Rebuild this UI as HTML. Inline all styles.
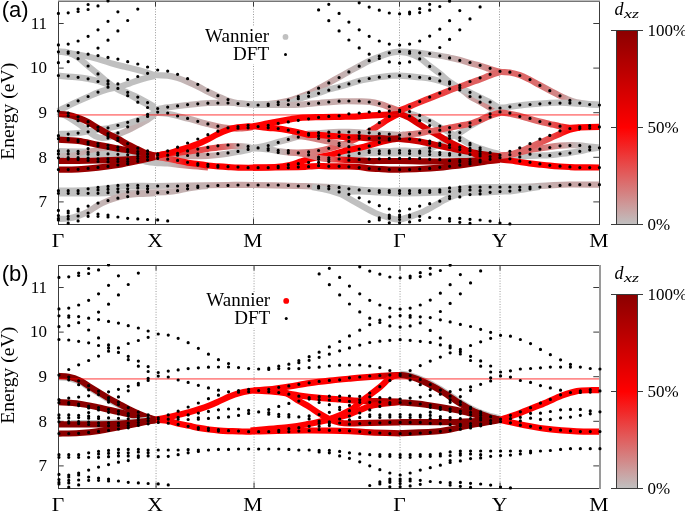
<!DOCTYPE html>
<html><head><meta charset="utf-8"><style>
html,body{margin:0;padding:0;background:#fff;width:685px;height:511px;overflow:hidden}
svg{display:block}
text{font-family:"Liberation Serif",serif;fill:#000}
text{filter:grayscale(100%)}
.tk{font-size:17px}
.kl{font-size:18.5px}
.lg{font-size:19px}
.yl{font-size:19.6px}
.pl{font-family:"Liberation Sans",sans-serif;font-size:22px}
.dl{font-size:18px;font-style:italic}
.sub{font-size:13.5px}
</style></head><body>
<svg width="685" height="511" viewBox="0 0 685 511">
<defs>
<linearGradient id="cb" x1="0" y1="0" x2="0" y2="1"><stop offset="0.000" stop-color="#8b0000"/><stop offset="0.050" stop-color="#970000"/><stop offset="0.100" stop-color="#a20000"/><stop offset="0.150" stop-color="#ae0000"/><stop offset="0.200" stop-color="#b90000"/><stop offset="0.250" stop-color="#c50000"/><stop offset="0.300" stop-color="#d10000"/><stop offset="0.350" stop-color="#dc0000"/><stop offset="0.400" stop-color="#e80000"/><stop offset="0.450" stop-color="#f30000"/><stop offset="0.500" stop-color="#ff0000"/><stop offset="0.550" stop-color="#f91313"/><stop offset="0.600" stop-color="#f22626"/><stop offset="0.650" stop-color="#ec3a3a"/><stop offset="0.700" stop-color="#e64d4d"/><stop offset="0.750" stop-color="#e06060"/><stop offset="0.800" stop-color="#d97373"/><stop offset="0.850" stop-color="#d38686"/><stop offset="0.900" stop-color="#cd9a9a"/><stop offset="0.950" stop-color="#c6adad"/><stop offset="1.000" stop-color="#c0c0c0"/></linearGradient>
<clipPath id="clip0"><rect x="55.5" y="1" width="546" height="223"/></clipPath>
<clipPath id="clip264"><rect x="55.5" y="265" width="546" height="223"/></clipPath>
<clipPath id="clipd0"><rect x="55" y="0" width="548" height="226"/></clipPath>
<clipPath id="clipd264"><rect x="55" y="264" width="548" height="226"/></clipPath>
</defs>
<g class="tx">
<line x1="155.5" y1="1" x2="155.5" y2="224" stroke="#9a9a9a" stroke-width="1" stroke-dasharray="1 1.6"/>
<line x1="253.5" y1="1" x2="253.5" y2="224" stroke="#9a9a9a" stroke-width="1" stroke-dasharray="1 1.6"/>
<line x1="399.5" y1="1" x2="399.5" y2="224" stroke="#9a9a9a" stroke-width="1" stroke-dasharray="1 1.6"/>
<line x1="499.5" y1="1" x2="499.5" y2="224" stroke="#9a9a9a" stroke-width="1" stroke-dasharray="1 1.6"/>
<path d="M58,201.9h5.7M599,201.9h-5.7" stroke="#3a3a3a" stroke-width="1"/>
<path d="M58,157.3h5.7M599,157.3h-5.7" stroke="#3a3a3a" stroke-width="1"/>
<path d="M58,112.7h5.7M599,112.7h-5.7" stroke="#3a3a3a" stroke-width="1"/>
<path d="M58,68.1h5.7M599,68.1h-5.7" stroke="#3a3a3a" stroke-width="1"/>
<path d="M58,23.5h5.7M599,23.5h-5.7" stroke="#3a3a3a" stroke-width="1"/>
<path d="M155.5,224v-5.5M155.5,1v5.5" stroke="#3a3a3a" stroke-width="1"/>
<path d="M253.5,224v-5.5M253.5,1v5.5" stroke="#3a3a3a" stroke-width="1"/>
<path d="M399.5,224v-5.5M399.5,1v5.5" stroke="#3a3a3a" stroke-width="1"/>
<path d="M499.5,224v-5.5M499.5,1v5.5" stroke="#3a3a3a" stroke-width="1"/>
<path d="M58.5,224v-5.5M58.5,1v5.5" stroke="#3a3a3a" stroke-width="1"/>
<path d="M599.5,224v-5.5M599.5,1v5.5" stroke="#3a3a3a" stroke-width="1"/>
<g clip-path="url(#clip0)">
<linearGradient id="g0_0" gradientUnits="userSpaceOnUse" x1="58" y1="0" x2="599.2" y2="0"><stop offset="0.0000" stop-color="#c0c0c0"/><stop offset="0.0370" stop-color="#c0c0c0"/><stop offset="0.0739" stop-color="#c0c0c0"/><stop offset="0.1016" stop-color="#c0c0c0"/><stop offset="0.1238" stop-color="#c0c0c0"/><stop offset="0.1460" stop-color="#c0c0c0"/><stop offset="0.1637" stop-color="#c0c0c0"/><stop offset="0.1792" stop-color="#c0c0c0"/><stop offset="0.2027" stop-color="#c0bfbf"/><stop offset="0.2204" stop-color="#c2baba"/><stop offset="0.2397" stop-color="#c4b4b4"/><stop offset="0.2591" stop-color="#c4b2b2"/><stop offset="0.2768" stop-color="#c4b2b2"/><stop offset="0.2962" stop-color="#c4b2b2"/><stop offset="0.3154" stop-color="#c4b2b2"/><stop offset="0.3331" stop-color="#c4b4b4"/><stop offset="0.3511" stop-color="#c3b8b8"/><stop offset="0.3603" stop-color="#c3b8b8"/><stop offset="0.3882" stop-color="#c6aeae"/><stop offset="0.4259" stop-color="#c8a6a6"/><stop offset="0.4448" stop-color="#c8a6a6"/><stop offset="0.4634" stop-color="#c8a6a6"/><stop offset="0.4823" stop-color="#c8a6a6"/><stop offset="0.5011" stop-color="#c7a9a9"/><stop offset="0.5200" stop-color="#c6aeae"/><stop offset="0.5388" stop-color="#c3b6b6"/><stop offset="0.5576" stop-color="#c2baba"/><stop offset="0.5765" stop-color="#c0bfbf"/><stop offset="0.5950" stop-color="#c0c0c0"/><stop offset="0.6135" stop-color="#c0c0c0"/><stop offset="0.6310" stop-color="#c0c0c0"/><stop offset="0.6495" stop-color="#c0c0c0"/><stop offset="0.6672" stop-color="#c0bfbf"/><stop offset="0.7058" stop-color="#c2baba"/><stop offset="0.7236" stop-color="#c4b2b2"/><stop offset="0.7428" stop-color="#c8a6a6"/><stop offset="0.7607" stop-color="#caa0a0"/><stop offset="0.7799" stop-color="#ce9696"/><stop offset="0.7977" stop-color="#d48282"/><stop offset="0.8161" stop-color="#dd6868"/><stop offset="0.8350" stop-color="#dd6868"/><stop offset="0.8537" stop-color="#dd6868"/><stop offset="0.8712" stop-color="#dd6868"/><stop offset="0.8899" stop-color="#d97373"/><stop offset="0.9087" stop-color="#d48282"/><stop offset="0.9276" stop-color="#d28a8a"/><stop offset="0.9449" stop-color="#c8a6a6"/><stop offset="0.9581" stop-color="#c4b2b2"/><stop offset="0.9812" stop-color="#c2baba"/><stop offset="1.0000" stop-color="#c2baba"/></linearGradient>
<path d="M58.00,51.50C61.33,52.00 71.33,53.25 78.00,54.50C84.67,55.75 92.17,57.45 98.00,59.00C103.83,60.55 108.50,62.50 113.00,63.80C117.50,65.10 121.00,65.80 125.00,66.80C129.00,67.80 133.40,68.85 137.00,69.80C140.60,70.75 143.60,71.63 146.60,72.50C149.60,73.37 151.48,74.48 155.00,75.00C158.52,75.52 163.98,75.12 167.70,75.60C171.42,76.08 173.97,76.87 177.30,77.90C180.63,78.93 184.22,80.35 187.70,81.80C191.18,83.25 194.85,84.97 198.20,86.60C201.55,88.23 204.45,89.95 207.80,91.60C211.15,93.25 214.82,94.93 218.30,96.50C221.78,98.07 225.37,99.85 228.70,101.00C232.03,102.15 235.08,102.87 238.30,103.40C241.52,103.93 245.55,104.02 248.00,104.20C250.45,104.38 249.65,104.52 253.00,104.50C256.35,104.48 262.18,104.73 268.10,104.10C274.02,103.47 283.40,101.83 288.50,100.70C293.60,99.57 295.32,98.50 298.70,97.30C302.08,96.10 305.42,95.00 308.80,93.50C312.18,92.00 315.60,90.12 319.00,88.30C322.40,86.48 325.80,84.48 329.20,82.60C332.60,80.72 336.00,78.88 339.40,77.00C342.80,75.12 346.20,73.18 349.60,71.30C353.00,69.42 356.40,67.50 359.80,65.70C363.20,63.90 366.63,62.03 370.00,60.50C373.37,58.97 376.67,57.75 380.00,56.50C383.33,55.25 386.75,53.82 390.00,53.00C393.25,52.18 396.25,51.77 399.50,51.60C402.75,51.43 406.23,51.80 409.50,52.00C412.77,52.20 414.02,52.18 419.10,52.80C424.18,53.42 434.92,54.88 440.00,55.70C445.08,56.52 446.27,56.98 449.60,57.70C452.93,58.42 456.65,59.12 460.00,60.00C463.35,60.88 466.35,62.05 469.70,63.00C473.05,63.95 476.77,64.72 480.10,65.70C483.43,66.68 486.43,67.88 489.70,68.90C492.97,69.92 496.33,71.20 499.70,71.80C503.07,72.40 506.52,71.93 509.90,72.50C513.28,73.07 516.73,74.02 520.00,75.20C523.27,76.38 526.23,77.95 529.50,79.60C532.77,81.25 536.22,83.28 539.60,85.10C542.98,86.92 546.40,88.73 549.80,90.50C553.20,92.27 556.73,94.12 560.00,95.70C563.27,97.28 566.65,98.90 569.40,100.00C572.15,101.10 573.23,101.63 576.50,102.30C579.77,102.97 585.22,103.58 589.00,104.00C592.78,104.42 597.50,104.67 599.20,104.80" fill="none" stroke="url(#g0_0)" stroke-width="6.2" stroke-linejoin="round" stroke-linecap="butt"/>
<linearGradient id="g0_1" gradientUnits="userSpaceOnUse" x1="58" y1="0" x2="499.7" y2="0"><stop offset="0.0000" stop-color="#c0c0c0"/><stop offset="0.0226" stop-color="#c0c0c0"/><stop offset="0.0453" stop-color="#c0c0c0"/><stop offset="0.0679" stop-color="#c0c0c0"/><stop offset="0.0906" stop-color="#c0c0c0"/><stop offset="0.1132" stop-color="#c0c0c0"/><stop offset="0.1358" stop-color="#c0c0c0"/><stop offset="0.1585" stop-color="#c0c0c0"/><stop offset="0.1811" stop-color="#c0c0c0"/><stop offset="0.2038" stop-color="#c0c0c0"/><stop offset="0.2196" stop-color="#c0c0c0"/><stop offset="0.2484" stop-color="#c1bdbd"/><stop offset="0.2936" stop-color="#c3b6b6"/><stop offset="0.3391" stop-color="#c4b4b4"/><stop offset="0.3865" stop-color="#c4b4b4"/><stop offset="0.4075" stop-color="#c3b8b8"/><stop offset="0.4415" stop-color="#c1bdbd"/><stop offset="0.4754" stop-color="#c0c0c0"/><stop offset="0.5218" stop-color="#c0c0c0"/><stop offset="0.5449" stop-color="#c0c0c0"/><stop offset="0.5678" stop-color="#c0c0c0"/><stop offset="0.5909" stop-color="#c0c0c0"/><stop offset="0.6140" stop-color="#c0c0c0"/><stop offset="0.6371" stop-color="#c0c0c0"/><stop offset="0.6602" stop-color="#c0c0c0"/><stop offset="0.6833" stop-color="#c0c0c0"/><stop offset="0.7064" stop-color="#c0c0c0"/><stop offset="0.7292" stop-color="#c0c0c0"/><stop offset="0.7523" stop-color="#c0c0c0"/><stop offset="0.7731" stop-color="#c0c0c0"/><stop offset="0.8175" stop-color="#c0c0c0"/><stop offset="0.8411" stop-color="#c0c0c0"/><stop offset="0.8648" stop-color="#c0c0c0"/><stop offset="0.8866" stop-color="#c0bfbf"/><stop offset="0.9101" stop-color="#c2baba"/><stop offset="0.9321" stop-color="#c8a6a6"/><stop offset="0.9556" stop-color="#ce9696"/><stop offset="0.9774" stop-color="#d28a8a"/><stop offset="1.0000" stop-color="#d48282"/></linearGradient>
<path d="M58.00,51.50C59.67,51.67 64.67,51.50 68.00,52.50C71.33,53.50 74.67,55.28 78.00,57.50C81.33,59.72 84.67,63.05 88.00,65.80C91.33,68.55 94.67,71.22 98.00,74.00C101.33,76.78 104.67,79.92 108.00,82.50C111.33,85.08 114.67,87.58 118.00,89.50C121.33,91.42 124.67,92.32 128.00,94.00C131.33,95.68 134.67,97.77 138.00,99.60C141.33,101.43 145.17,103.43 148.00,105.00C150.83,106.57 151.72,108.60 155.00,109.00C158.28,109.40 162.25,108.07 167.70,107.40C173.15,106.73 181.02,105.73 187.70,105.00C194.38,104.27 200.97,103.40 207.80,103.00C214.63,102.60 223.67,102.53 228.70,102.60C233.73,102.67 233.95,103.08 238.00,103.40C242.05,103.72 248.00,104.32 253.00,104.50C258.00,104.68 262.08,104.70 268.00,104.50C273.92,104.30 283.38,104.18 288.50,103.30C293.62,102.42 295.32,100.45 298.70,99.20C302.08,97.95 305.42,96.87 308.80,95.80C312.18,94.73 315.60,93.87 319.00,92.80C322.40,91.73 325.80,90.42 329.20,89.40C332.60,88.38 336.00,87.63 339.40,86.70C342.80,85.77 346.20,84.78 349.60,83.80C353.00,82.82 356.40,81.63 359.80,80.80C363.20,79.97 366.62,79.43 370.00,78.80C373.38,78.17 376.72,77.50 380.10,77.00C383.48,76.50 387.07,76.02 390.30,75.80C393.53,75.58 394.70,75.45 399.50,75.70C404.30,75.95 414.10,76.83 419.10,77.30C424.10,77.77 426.02,77.88 429.50,78.50C432.98,79.12 436.65,80.05 440.00,81.00C443.35,81.95 446.27,82.95 449.60,84.20C452.93,85.45 456.65,86.50 460.00,88.50C463.35,90.50 466.35,93.98 469.70,96.20C473.05,98.42 476.77,99.93 480.10,101.80C483.43,103.67 486.43,105.78 489.70,107.40C492.97,109.02 498.03,110.82 499.70,111.50" fill="none" stroke="url(#g0_1)" stroke-width="6.2" stroke-linejoin="round" stroke-linecap="butt"/>
<linearGradient id="g0_2" gradientUnits="userSpaceOnUse" x1="58" y1="0" x2="155" y2="0"><stop offset="0.0000" stop-color="#c0c0c0"/><stop offset="0.2062" stop-color="#c0c0c0"/><stop offset="0.3093" stop-color="#c0c0c0"/><stop offset="0.4124" stop-color="#c0c0c0"/><stop offset="0.5155" stop-color="#c0c0c0"/><stop offset="0.6186" stop-color="#c0c0c0"/><stop offset="0.7216" stop-color="#c0c0c0"/><stop offset="0.8247" stop-color="#c0c0c0"/><stop offset="0.9278" stop-color="#c0c0c0"/><stop offset="1.0000" stop-color="#c0c0c0"/></linearGradient>
<path d="M58.00,75.70C61.33,75.97 73.00,76.78 78.00,77.30C83.00,77.82 84.67,78.18 88.00,78.80C91.33,79.42 94.67,80.03 98.00,81.00C101.33,81.97 104.67,83.33 108.00,84.60C111.33,85.87 114.67,87.20 118.00,88.60C121.33,90.00 124.67,91.52 128.00,93.00C131.33,94.48 134.67,95.83 138.00,97.50C141.33,99.17 145.17,101.42 148.00,103.00C150.83,104.58 153.83,106.33 155.00,107.00" fill="none" stroke="url(#g0_2)" stroke-width="6.2" stroke-linejoin="round" stroke-linecap="butt"/>
<linearGradient id="g0_3" gradientUnits="userSpaceOnUse" x1="58" y1="0" x2="155" y2="0"><stop offset="0.0000" stop-color="#c0c0c0"/><stop offset="0.1031" stop-color="#c0c0c0"/><stop offset="0.2062" stop-color="#c0c0c0"/><stop offset="0.3093" stop-color="#c0c0c0"/><stop offset="0.4124" stop-color="#c0c0c0"/><stop offset="0.5155" stop-color="#c0c0c0"/><stop offset="0.6392" stop-color="#c0c0c0"/><stop offset="0.7423" stop-color="#c0c0c0"/><stop offset="0.8454" stop-color="#c0c0c0"/><stop offset="0.9278" stop-color="#c0c0c0"/><stop offset="1.0000" stop-color="#c0c0c0"/></linearGradient>
<path d="M58.00,111.00C59.67,110.17 64.67,107.62 68.00,106.00C71.33,104.38 74.67,102.83 78.00,101.30C81.33,99.77 84.67,98.27 88.00,96.80C91.33,95.33 94.67,93.75 98.00,92.50C101.33,91.25 104.33,90.27 108.00,89.30C111.67,88.33 116.33,87.72 120.00,86.70C123.67,85.68 126.67,84.35 130.00,83.20C133.33,82.05 137.00,80.75 140.00,79.80C143.00,78.85 145.50,78.13 148.00,77.50C150.50,76.87 153.83,76.25 155.00,76.00" fill="none" stroke="url(#g0_3)" stroke-width="6.2" stroke-linejoin="round" stroke-linecap="butt"/>
<linearGradient id="g0_4" gradientUnits="userSpaceOnUse" x1="399.5" y1="0" x2="599.2" y2="0"><stop offset="0.0000" stop-color="#c0c0c0"/><stop offset="0.0501" stop-color="#c0c0c0"/><stop offset="0.0981" stop-color="#c0c0c0"/><stop offset="0.1502" stop-color="#c0c0c0"/><stop offset="0.2028" stop-color="#c0c0c0"/><stop offset="0.2509" stop-color="#c0c0c0"/><stop offset="0.3030" stop-color="#c0c0c0"/><stop offset="0.3515" stop-color="#c0c0c0"/><stop offset="0.4036" stop-color="#c0c0c0"/><stop offset="0.4517" stop-color="#c0c0c0"/><stop offset="0.5018" stop-color="#c0c0c0"/><stop offset="0.5528" stop-color="#c0c0c0"/><stop offset="0.6034" stop-color="#c0c0c0"/><stop offset="0.6510" stop-color="#c0c0c0"/><stop offset="0.7016" stop-color="#c0c0c0"/><stop offset="0.7526" stop-color="#c0c0c0"/><stop offset="0.8037" stop-color="#c0c0c0"/><stop offset="0.8508" stop-color="#c0c0c0"/><stop offset="0.9019" stop-color="#c0c0c0"/><stop offset="0.9489" stop-color="#c0c0c0"/><stop offset="1.0000" stop-color="#c0c0c0"/></linearGradient>
<path d="M399.50,52.00C401.17,52.25 406.23,52.55 409.50,53.50C412.77,54.45 415.77,55.67 419.10,57.70C422.43,59.73 426.02,63.03 429.50,65.70C432.98,68.37 436.65,71.02 440.00,73.70C443.35,76.38 446.27,79.38 449.60,81.80C452.93,84.22 456.65,86.47 460.00,88.20C463.35,89.93 466.35,90.65 469.70,92.20C473.05,93.75 476.77,95.87 480.10,97.50C483.43,99.13 486.43,100.33 489.70,102.00C492.97,103.67 496.33,106.72 499.70,107.50C503.07,108.28 506.52,107.05 509.90,106.70C513.28,106.35 516.73,105.80 520.00,105.40C523.27,105.00 526.23,104.60 529.50,104.30C532.77,104.00 536.22,103.85 539.60,103.60C542.98,103.35 546.40,102.97 549.80,102.80C553.20,102.63 556.73,102.55 560.00,102.60C563.27,102.65 566.13,102.93 569.40,103.10C572.67,103.27 576.33,103.40 579.60,103.60C582.87,103.80 585.73,104.10 589.00,104.30C592.27,104.50 597.50,104.72 599.20,104.80" fill="none" stroke="url(#g0_4)" stroke-width="6.2" stroke-linejoin="round" stroke-linecap="butt"/>
<linearGradient id="g0_5" gradientUnits="userSpaceOnUse" x1="253" y1="0" x2="399.5" y2="0"><stop offset="0.0000" stop-color="#c0bfbf"/><stop offset="0.1024" stop-color="#c2baba"/><stop offset="0.2184" stop-color="#c4b4b4"/><stop offset="0.3119" stop-color="#c5b0b0"/><stop offset="0.4505" stop-color="#c6aeae"/><stop offset="0.5898" stop-color="#c7acac"/><stop offset="0.7290" stop-color="#c8a6a6"/><stop offset="0.7986" stop-color="#c8a6a6"/><stop offset="0.8676" stop-color="#ce9696"/><stop offset="0.9372" stop-color="#d48282"/><stop offset="1.0000" stop-color="#dd6868"/></linearGradient>
<path d="M253.00,104.50C255.50,104.55 262.67,104.75 268.00,104.80C273.33,104.85 279.88,104.83 285.00,104.80C290.12,104.77 293.03,104.90 298.70,104.60C304.37,104.30 312.22,103.53 319.00,103.00C325.78,102.47 332.60,101.67 339.40,101.40C346.20,101.13 354.70,101.32 359.80,101.40C364.90,101.48 366.62,101.45 370.00,101.90C373.38,102.35 376.72,103.17 380.10,104.10C383.48,105.03 387.07,106.37 390.30,107.50C393.53,108.63 397.97,110.33 399.50,110.90" fill="none" stroke="url(#g0_5)" stroke-width="6.2" stroke-linejoin="round" stroke-linecap="butt"/>
<linearGradient id="g0_6" gradientUnits="userSpaceOnUse" x1="58" y1="0" x2="155" y2="0"><stop offset="0.0000" stop-color="#c0c0c0"/><stop offset="0.1031" stop-color="#c0c0c0"/><stop offset="0.2062" stop-color="#c0c0c0"/><stop offset="0.3093" stop-color="#c0c0c0"/><stop offset="0.3814" stop-color="#c0c0c0"/><stop offset="0.4536" stop-color="#c0c0c0"/><stop offset="0.5361" stop-color="#c1bebe"/><stop offset="0.6082" stop-color="#c2baba"/><stop offset="0.6907" stop-color="#c3b6b6"/><stop offset="0.7526" stop-color="#c4b2b2"/><stop offset="0.8330" stop-color="#c4b2b2"/><stop offset="0.9227" stop-color="#c3b8b8"/><stop offset="1.0000" stop-color="#c1bdbd"/></linearGradient>
<path d="M58.00,112.00C59.67,112.83 64.67,115.08 68.00,117.00C71.33,118.92 74.67,121.17 78.00,123.50C81.33,125.83 85.17,128.92 88.00,131.00C90.83,133.08 92.67,134.83 95.00,136.00C97.33,137.17 99.50,137.83 102.00,138.00C104.50,138.17 107.50,137.55 110.00,137.00C112.50,136.45 114.50,135.62 117.00,134.70C119.50,133.78 122.67,132.50 125.00,131.50C127.33,130.50 128.70,129.85 131.00,128.70C133.30,127.55 136.05,126.08 138.80,124.60C141.55,123.12 144.80,121.48 147.50,119.80C150.20,118.12 153.75,115.38 155.00,114.50" fill="none" stroke="url(#g0_6)" stroke-width="6.2" stroke-linejoin="round" stroke-linecap="butt"/>
<linearGradient id="g0_7" gradientUnits="userSpaceOnUse" x1="58" y1="0" x2="253" y2="0"><stop offset="0.0000" stop-color="#c0c0c0"/><stop offset="0.1026" stop-color="#c0c0c0"/><stop offset="0.2051" stop-color="#c0c0c0"/><stop offset="0.2564" stop-color="#c0c0c0"/><stop offset="0.3108" stop-color="#c0c0c0"/><stop offset="0.3590" stop-color="#c0c0c0"/><stop offset="0.4072" stop-color="#c0c0c0"/><stop offset="0.4636" stop-color="#c0c0c0"/><stop offset="0.4974" stop-color="#c0c0c0"/><stop offset="0.5626" stop-color="#c0bfbf"/><stop offset="0.6651" stop-color="#c4b2b2"/><stop offset="0.7682" stop-color="#c8a6a6"/><stop offset="0.8221" stop-color="#ce9696"/><stop offset="0.8754" stop-color="#d48282"/><stop offset="0.9333" stop-color="#dd6868"/><stop offset="1.0000" stop-color="#e74a4a"/></linearGradient>
<path d="M58.00,134.00C61.33,133.83 71.33,133.75 78.00,133.00C84.67,132.25 93.00,130.30 98.00,129.50C103.00,128.70 104.57,128.82 108.00,128.20C111.43,127.58 115.27,126.58 118.60,125.80C121.93,125.02 124.87,124.40 128.00,123.50C131.13,122.60 134.00,121.57 137.40,120.40C140.80,119.23 145.47,117.73 148.40,116.50C151.33,115.27 151.78,113.45 155.00,113.00C158.22,112.55 162.25,112.87 167.70,113.80C173.15,114.73 181.02,116.90 187.70,118.60C194.38,120.30 202.70,122.67 207.80,124.00C212.90,125.33 214.82,125.90 218.30,126.60C221.78,127.30 225.08,127.88 228.70,128.20C232.32,128.52 235.95,128.70 240.00,128.50C244.05,128.30 250.83,127.25 253.00,127.00" fill="none" stroke="url(#g0_7)" stroke-width="6.2" stroke-linejoin="round" stroke-linecap="butt"/>
<linearGradient id="g0_8" gradientUnits="userSpaceOnUse" x1="58" y1="0" x2="208" y2="0"><stop offset="0.0000" stop-color="#c0c0c0"/><stop offset="0.2667" stop-color="#c0c0c0"/><stop offset="0.4000" stop-color="#c0c0c0"/><stop offset="0.4667" stop-color="#c0c0c0"/><stop offset="0.5333" stop-color="#c0c0c0"/><stop offset="0.6000" stop-color="#c0c0c0"/><stop offset="0.6467" stop-color="#c0c0c0"/><stop offset="0.7313" stop-color="#c2baba"/><stop offset="0.7973" stop-color="#c8a6a6"/><stop offset="0.8640" stop-color="#d28a8a"/><stop offset="0.9333" stop-color="#d97373"/><stop offset="1.0000" stop-color="#e25757"/></linearGradient>
<path d="M58.00,151.20C64.67,151.30 88.00,151.33 98.00,151.80C108.00,152.27 113.00,153.22 118.00,154.00C123.00,154.78 124.67,155.58 128.00,156.50C131.33,157.42 134.67,158.58 138.00,159.50C141.33,160.42 145.17,161.45 148.00,162.00C150.83,162.55 151.72,162.55 155.00,162.80C158.28,163.05 163.93,163.20 167.70,163.50C171.47,163.80 174.28,164.25 177.60,164.60C180.92,164.95 184.20,165.28 187.60,165.60C191.00,165.92 194.60,166.22 198.00,166.50C201.40,166.78 206.33,167.17 208.00,167.30" fill="none" stroke="url(#g0_8)" stroke-width="6.2" stroke-linejoin="round" stroke-linecap="butt"/>
<linearGradient id="g0_9" gradientUnits="userSpaceOnUse" x1="58" y1="0" x2="158" y2="0"><stop offset="0.0000" stop-color="#c0c0c0"/><stop offset="0.4000" stop-color="#c0c0c0"/><stop offset="0.7000" stop-color="#c0c0c0"/><stop offset="0.9000" stop-color="#c0c0c0"/><stop offset="1.0000" stop-color="#c0c0c0"/></linearGradient>
<path d="M58.00,154.50C64.67,154.50 86.33,154.42 98.00,154.50C109.67,154.58 119.67,154.58 128.00,155.00C136.33,155.42 143.00,156.42 148.00,157.00C153.00,157.58 156.33,158.25 158.00,158.50" fill="none" stroke="url(#g0_9)" stroke-width="6.2" stroke-linejoin="round" stroke-linecap="butt"/>
<linearGradient id="g0_10" gradientUnits="userSpaceOnUse" x1="58" y1="0" x2="599.2" y2="0"><stop offset="0.0000" stop-color="#c0c0c0"/><stop offset="0.0554" stop-color="#c0c0c0"/><stop offset="0.0924" stop-color="#c0c0c0"/><stop offset="0.1293" stop-color="#c0c0c0"/><stop offset="0.1792" stop-color="#c1bdbd"/><stop offset="0.2397" stop-color="#c4b2b2"/><stop offset="0.3141" stop-color="#c8a6a6"/><stop offset="0.3603" stop-color="#c8a6a6"/><stop offset="0.4435" stop-color="#c8a6a6"/><stop offset="0.4804" stop-color="#c4b2b2"/><stop offset="0.5192" stop-color="#c1bdbd"/><stop offset="0.5562" stop-color="#c0c0c0"/><stop offset="0.5931" stop-color="#c0c0c0"/><stop offset="0.6310" stop-color="#c0c0c0"/><stop offset="0.7241" stop-color="#c0c0c0"/><stop offset="0.7611" stop-color="#c0c0c0"/><stop offset="0.8161" stop-color="#c0c0c0"/><stop offset="0.8350" stop-color="#c0c0c0"/><stop offset="0.8712" stop-color="#c2baba"/><stop offset="0.9087" stop-color="#c6aeae"/><stop offset="0.9449" stop-color="#c8a6a6"/><stop offset="1.0000" stop-color="#c8a6a6"/></linearGradient>
<path d="M58.00,190.70C63.00,190.58 79.67,190.45 88.00,190.00C96.33,189.55 101.33,188.67 108.00,188.00C114.67,187.33 120.17,186.33 128.00,186.00C135.83,185.67 145.05,186.08 155.00,186.00C164.95,185.92 175.53,185.67 187.70,185.50C199.87,185.33 217.12,185.08 228.00,185.00C238.88,184.92 241.33,184.83 253.00,185.00C264.67,185.17 287.17,185.75 298.00,186.00C308.83,186.25 311.17,186.25 318.00,186.50C324.83,186.75 332.17,187.00 339.00,187.50C345.83,188.00 352.33,188.97 359.00,189.50C365.67,190.03 372.25,190.50 379.00,190.70C385.75,190.90 387.68,190.82 399.50,190.70C411.32,190.58 438.17,190.53 449.90,190.00C461.63,189.47 461.60,188.00 469.90,187.50C478.20,187.00 493.03,187.10 499.70,187.00C506.37,186.90 504.93,186.97 509.90,186.90C514.87,186.83 522.85,186.87 529.50,186.60C536.15,186.33 543.15,185.65 549.80,185.30C556.45,184.95 561.17,184.60 569.40,184.50C577.63,184.40 594.23,184.67 599.20,184.70" fill="none" stroke="url(#g0_10)" stroke-width="6.2" stroke-linejoin="round" stroke-linecap="butt"/>
<linearGradient id="g0_11" gradientUnits="userSpaceOnUse" x1="58" y1="0" x2="207.8" y2="0"><stop offset="0.0000" stop-color="#c0c0c0"/><stop offset="0.2003" stop-color="#c0c0c0"/><stop offset="0.3338" stop-color="#c0c0c0"/><stop offset="0.4673" stop-color="#c2baba"/><stop offset="0.6475" stop-color="#c4b2b2"/><stop offset="0.7323" stop-color="#c4b2b2"/><stop offset="0.7964" stop-color="#c4b2b2"/><stop offset="0.8658" stop-color="#c4b2b2"/><stop offset="0.9359" stop-color="#c4b2b2"/><stop offset="1.0000" stop-color="#c4b2b2"/></linearGradient>
<path d="M58.00,193.30C63.00,193.30 79.67,193.35 88.00,193.30C96.33,193.25 101.33,193.13 108.00,193.00C114.67,192.87 120.17,192.60 128.00,192.50C135.83,192.40 148.38,192.48 155.00,192.40C161.62,192.32 163.98,192.27 167.70,192.00C171.42,191.73 173.97,191.40 177.30,190.80C180.63,190.20 184.22,189.07 187.70,188.40C191.18,187.73 194.85,187.20 198.20,186.80C201.55,186.40 206.20,186.13 207.80,186.00" fill="none" stroke="url(#g0_11)" stroke-width="6.2" stroke-linejoin="round" stroke-linecap="butt"/>
<linearGradient id="g0_12" gradientUnits="userSpaceOnUse" x1="58" y1="0" x2="155" y2="0"><stop offset="0.0000" stop-color="#c0c0c0"/><stop offset="0.1031" stop-color="#c0c0c0"/><stop offset="0.1990" stop-color="#c0bfbf"/><stop offset="0.3093" stop-color="#c2baba"/><stop offset="0.4093" stop-color="#c3b6b6"/><stop offset="0.5196" stop-color="#c4b2b2"/><stop offset="0.6206" stop-color="#c5b0b0"/><stop offset="0.7227" stop-color="#c5b0b0"/><stop offset="0.8247" stop-color="#c5b0b0"/><stop offset="1.0000" stop-color="#c4b2b2"/></linearGradient>
<path d="M58.00,219.00C59.67,218.92 64.78,218.95 68.00,218.50C71.22,218.05 73.97,217.42 77.30,216.30C80.63,215.18 84.60,213.60 88.00,211.80C91.40,210.00 94.30,207.38 97.70,205.50C101.10,203.62 104.98,201.88 108.40,200.50C111.82,199.12 114.92,198.12 118.20,197.20C121.48,196.28 124.80,195.53 128.10,195.00C131.40,194.47 133.52,194.30 138.00,194.00C142.48,193.70 152.17,193.33 155.00,193.20" fill="none" stroke="url(#g0_12)" stroke-width="6.2" stroke-linejoin="round" stroke-linecap="butt"/>
<linearGradient id="g0_13" gradientUnits="userSpaceOnUse" x1="312" y1="0" x2="480" y2="0"><stop offset="0.0000" stop-color="#c0bfbf"/><stop offset="0.0708" stop-color="#c0c0c0"/><stop offset="0.1667" stop-color="#c0c0c0"/><stop offset="0.2583" stop-color="#c0c0c0"/><stop offset="0.3756" stop-color="#c0c0c0"/><stop offset="0.4643" stop-color="#c0c0c0"/><stop offset="0.5214" stop-color="#c0c0c0"/><stop offset="0.5833" stop-color="#c0c0c0"/><stop offset="0.6429" stop-color="#c0c0c0"/><stop offset="0.7024" stop-color="#c0c0c0"/><stop offset="0.7619" stop-color="#c0c0c0"/><stop offset="0.8208" stop-color="#c0c0c0"/><stop offset="0.8810" stop-color="#c0c0c0"/><stop offset="0.9399" stop-color="#c0c0c0"/><stop offset="1.0000" stop-color="#c0c0c0"/></linearGradient>
<path d="M312.00,187.00C313.98,187.38 319.23,188.13 323.90,189.30C328.57,190.47 334.75,191.85 340.00,194.00C345.25,196.15 349.55,199.03 355.40,202.20C361.25,205.37 369.33,210.37 375.10,213.00C380.87,215.63 385.92,216.92 390.00,218.00C394.08,219.08 396.27,219.73 399.60,219.50C402.93,219.27 406.60,217.65 410.00,216.60C413.40,215.55 416.67,214.60 420.00,213.20C423.33,211.80 426.67,210.00 430.00,208.20C433.33,206.40 436.68,204.20 440.00,202.40C443.32,200.60 446.57,198.78 449.90,197.40C453.23,196.02 456.67,195.07 460.00,194.10C463.33,193.13 466.57,192.03 469.90,191.60C473.23,191.17 478.32,191.52 480.00,191.50" fill="none" stroke="url(#g0_13)" stroke-width="6.2" stroke-linejoin="round" stroke-linecap="butt"/>
<linearGradient id="g0_14" gradientUnits="userSpaceOnUse" x1="339" y1="0" x2="539.6" y2="0"><stop offset="0.0000" stop-color="#c0c0c0"/><stop offset="0.0997" stop-color="#c0c0c0"/><stop offset="0.1994" stop-color="#c0c0c0"/><stop offset="0.3016" stop-color="#c0c0c0"/><stop offset="0.5528" stop-color="#c0c0c0"/><stop offset="0.7029" stop-color="#c0c0c0"/><stop offset="0.8011" stop-color="#c0c0c0"/><stop offset="0.8519" stop-color="#c0c0c0"/><stop offset="0.9023" stop-color="#c0c0c0"/><stop offset="0.9497" stop-color="#c0c0c0"/><stop offset="1.0000" stop-color="#c0c0c0"/></linearGradient>
<path d="M339.00,191.90C342.33,191.83 352.33,191.43 359.00,191.50C365.67,191.57 372.25,192.00 379.00,192.30C385.75,192.60 387.68,193.27 399.50,193.30C411.32,193.33 436.48,192.63 449.90,192.50C463.32,192.37 471.70,192.65 480.00,192.50C488.30,192.35 494.72,191.80 499.70,191.60C504.68,191.40 506.52,191.57 509.90,191.30C513.28,191.03 516.73,190.48 520.00,190.00C523.27,189.52 526.23,188.92 529.50,188.40C532.77,187.88 537.92,187.15 539.60,186.90" fill="none" stroke="url(#g0_14)" stroke-width="6.2" stroke-linejoin="round" stroke-linecap="butt"/>
<linearGradient id="g0_15" gradientUnits="userSpaceOnUse" x1="155" y1="0" x2="399.5" y2="0"><stop offset="0.0000" stop-color="#d48282"/><stop offset="0.0519" stop-color="#ce9696"/><stop offset="0.1337" stop-color="#c8a6a6"/><stop offset="0.2160" stop-color="#c8a6a6"/><stop offset="0.2589" stop-color="#c4b2b2"/><stop offset="0.3014" stop-color="#c2baba"/><stop offset="0.3407" stop-color="#c0bfbf"/><stop offset="0.3804" stop-color="#c0c0c0"/><stop offset="0.4008" stop-color="#c0c0c0"/><stop offset="0.4622" stop-color="#c0bfbf"/><stop offset="0.5031" stop-color="#c2baba"/><stop offset="0.5460" stop-color="#c8a6a6"/><stop offset="0.5869" stop-color="#d28a8a"/><stop offset="0.6290" stop-color="#d48282"/><stop offset="0.6708" stop-color="#d87878"/><stop offset="0.7157" stop-color="#dd6868"/><stop offset="0.7526" stop-color="#e25757"/><stop offset="0.7935" stop-color="#e74a4a"/><stop offset="0.8344" stop-color="#eb3d3d"/><stop offset="0.8753" stop-color="#f22828"/><stop offset="0.9162" stop-color="#f22828"/><stop offset="0.9571" stop-color="#ff0000"/><stop offset="1.0000" stop-color="#ff0000"/></linearGradient>
<path d="M155.00,156.50C157.12,156.55 162.25,156.85 167.70,156.80C173.15,156.75 181.02,156.37 187.70,156.20C194.38,156.03 202.70,156.00 207.80,155.80C212.90,155.60 214.82,155.38 218.30,155.00C221.78,154.62 225.37,154.03 228.70,153.50C232.03,152.97 235.08,152.38 238.30,151.80C241.52,151.22 245.55,150.55 248.00,150.00C250.45,149.45 249.67,148.62 253.00,148.50C256.33,148.38 263.83,148.87 268.00,149.30C272.17,149.73 274.58,150.60 278.00,151.10C281.42,151.60 285.08,152.05 288.50,152.30C291.92,152.55 295.12,152.62 298.50,152.60C301.88,152.58 305.38,152.52 308.80,152.20C312.22,151.88 315.47,151.37 319.00,150.70C322.53,150.03 326.67,149.05 330.00,148.20C333.33,147.35 335.83,146.63 339.00,145.60C342.17,144.57 345.67,143.35 349.00,142.00C352.33,140.65 355.67,139.23 359.00,137.50C362.33,135.77 365.67,133.63 369.00,131.60C372.33,129.57 375.67,127.43 379.00,125.30C382.33,123.17 385.58,120.77 389.00,118.80C392.42,116.83 397.75,114.38 399.50,113.50" fill="none" stroke="url(#g0_15)" stroke-width="6.2" stroke-linejoin="round" stroke-linecap="butt"/>
<linearGradient id="g0_16" gradientUnits="userSpaceOnUse" x1="155" y1="0" x2="404" y2="0"><stop offset="0.0000" stop-color="#ff0000"/><stop offset="0.0510" stop-color="#f22828"/><stop offset="0.1313" stop-color="#eb3d3d"/><stop offset="0.1735" stop-color="#e74a4a"/><stop offset="0.2120" stop-color="#e74a4a"/><stop offset="0.2542" stop-color="#e25757"/><stop offset="0.2960" stop-color="#d97373"/><stop offset="0.3345" stop-color="#c8a6a6"/><stop offset="0.3735" stop-color="#c1bdbd"/><stop offset="0.3936" stop-color="#c0c0c0"/><stop offset="0.4538" stop-color="#c0c0c0"/><stop offset="0.4940" stop-color="#c0bfbf"/><stop offset="0.5341" stop-color="#c2baba"/><stop offset="0.5743" stop-color="#c3b8b8"/><stop offset="0.6169" stop-color="#c4b2b2"/><stop offset="0.6570" stop-color="#c4b2b2"/><stop offset="0.6980" stop-color="#c4b2b2"/><stop offset="0.7390" stop-color="#c4b2b2"/><stop offset="0.7791" stop-color="#c4b2b2"/><stop offset="0.8193" stop-color="#c4b2b2"/><stop offset="0.8594" stop-color="#c3b8b8"/><stop offset="0.8996" stop-color="#c2baba"/><stop offset="0.9398" stop-color="#c2baba"/><stop offset="0.9819" stop-color="#c8a6a6"/><stop offset="1.0000" stop-color="#ce9696"/></linearGradient>
<path d="M155.00,156.00C157.12,155.60 162.25,154.33 167.70,153.60C173.15,152.87 182.62,152.15 187.70,151.60C192.78,151.05 194.85,150.75 198.20,150.30C201.55,149.85 204.45,149.40 207.80,148.90C211.15,148.40 214.82,147.73 218.30,147.30C221.78,146.87 225.37,146.52 228.70,146.30C232.03,146.08 235.08,145.92 238.30,146.00C241.52,146.08 245.55,146.50 248.00,146.80C250.45,147.10 249.67,148.10 253.00,147.80C256.33,147.50 263.83,145.97 268.00,145.00C272.17,144.03 274.67,142.93 278.00,142.00C281.33,141.07 284.67,140.32 288.00,139.40C291.33,138.48 294.57,137.48 298.00,136.50C301.43,135.52 305.17,134.03 308.60,133.50C312.03,132.97 315.23,133.50 318.60,133.30C321.97,133.10 325.40,132.55 328.80,132.30C332.20,132.05 335.63,131.88 339.00,131.80C342.37,131.72 345.67,131.72 349.00,131.80C352.33,131.88 355.67,132.05 359.00,132.30C362.33,132.55 365.67,133.07 369.00,133.30C372.33,133.53 375.67,133.57 379.00,133.70C382.33,133.83 385.58,133.88 389.00,134.10C392.42,134.32 397.00,134.92 399.50,135.00C402.00,135.08 403.25,134.67 404.00,134.60" fill="none" stroke="url(#g0_16)" stroke-width="6.2" stroke-linejoin="round" stroke-linecap="butt"/>
<linearGradient id="g0_17" gradientUnits="userSpaceOnUse" x1="340" y1="0" x2="599.2" y2="0"><stop offset="0.0000" stop-color="#c0c0c0"/><stop offset="0.0347" stop-color="#c0c0c0"/><stop offset="0.0733" stop-color="#c0c0c0"/><stop offset="0.1119" stop-color="#c0c0c0"/><stop offset="0.1505" stop-color="#c0c0c0"/><stop offset="0.1890" stop-color="#c0c0c0"/><stop offset="0.2296" stop-color="#c0c0c0"/><stop offset="0.3075" stop-color="#c0c0c0"/><stop offset="0.3850" stop-color="#c0c0c0"/><stop offset="0.4622" stop-color="#c0c0c0"/><stop offset="0.5015" stop-color="#c0c0c0"/><stop offset="0.5405" stop-color="#c0c0c0"/><stop offset="0.5791" stop-color="#c0c0c0"/><stop offset="0.6161" stop-color="#c0c0c0"/><stop offset="0.6555" stop-color="#c0c0c0"/><stop offset="0.6944" stop-color="#c0c0c0"/><stop offset="0.7311" stop-color="#c0c0c0"/><stop offset="0.7701" stop-color="#c0c0c0"/><stop offset="0.8094" stop-color="#c0c0c0"/><stop offset="0.8488" stop-color="#c0c0c0"/><stop offset="0.8850" stop-color="#c0c0c0"/><stop offset="0.9244" stop-color="#c0c0c0"/><stop offset="0.9606" stop-color="#c0c0c0"/><stop offset="1.0000" stop-color="#c0c0c0"/></linearGradient>
<path d="M340.00,155.50C341.50,155.30 345.83,154.58 349.00,154.30C352.17,154.02 355.67,153.98 359.00,153.80C362.33,153.62 365.67,153.30 369.00,153.20C372.33,153.10 375.67,153.18 379.00,153.20C382.33,153.22 385.58,153.25 389.00,153.30C392.42,153.35 394.38,153.42 399.50,153.50C404.62,153.58 412.98,153.67 419.70,153.80C426.42,153.93 433.12,154.10 439.80,154.30C446.48,154.50 454.77,154.80 459.80,155.00C464.83,155.20 466.62,155.33 470.00,155.50C473.38,155.67 476.75,155.87 480.10,156.00C483.45,156.13 486.83,156.22 490.10,156.30C493.37,156.38 496.40,156.37 499.70,156.50C503.00,156.63 506.52,157.13 509.90,157.10C513.28,157.07 516.73,156.48 520.00,156.30C523.27,156.12 526.23,156.13 529.50,156.00C532.77,155.87 536.22,155.65 539.60,155.50C542.98,155.35 546.40,155.35 549.80,155.10C553.20,154.85 556.73,154.37 560.00,154.00C563.27,153.63 566.13,153.35 569.40,152.90C572.67,152.45 576.33,151.90 579.60,151.30C582.87,150.70 585.73,149.93 589.00,149.30C592.27,148.67 597.50,147.80 599.20,147.50" fill="none" stroke="url(#g0_17)" stroke-width="6.2" stroke-linejoin="round" stroke-linecap="butt"/>
<linearGradient id="g0_18" gradientUnits="userSpaceOnUse" x1="292" y1="0" x2="499.7" y2="0"><stop offset="0.0000" stop-color="#c8a6a6"/><stop offset="0.0289" stop-color="#ce9696"/><stop offset="0.0799" stop-color="#d48282"/><stop offset="0.1281" stop-color="#d48282"/><stop offset="0.1772" stop-color="#d48282"/><stop offset="0.2263" stop-color="#d48282"/><stop offset="0.2744" stop-color="#ce9696"/><stop offset="0.3226" stop-color="#c4b2b2"/><stop offset="0.3707" stop-color="#c0bfbf"/><stop offset="0.4189" stop-color="#c0c0c0"/><stop offset="0.4670" stop-color="#c0c0c0"/><stop offset="0.5176" stop-color="#c0c0c0"/><stop offset="0.5662" stop-color="#c0c0c0"/><stop offset="0.6148" stop-color="#c0c0c0"/><stop offset="0.6630" stop-color="#c0c0c0"/><stop offset="0.7116" stop-color="#c0c0c0"/><stop offset="0.7588" stop-color="#c0c0c0"/><stop offset="0.8079" stop-color="#c0c0c0"/><stop offset="0.8570" stop-color="#c0c0c0"/><stop offset="0.9056" stop-color="#c0c0c0"/><stop offset="0.9538" stop-color="#c0c0c0"/><stop offset="1.0000" stop-color="#c0c0c0"/></linearGradient>
<path d="M292.00,135.00C293.00,135.17 295.23,135.58 298.00,136.00C300.77,136.42 305.17,136.92 308.60,137.50C312.03,138.08 315.23,138.83 318.60,139.50C321.97,140.17 325.40,140.83 328.80,141.50C332.20,142.17 335.63,142.75 339.00,143.50C342.37,144.25 345.67,145.17 349.00,146.00C352.33,146.83 355.67,147.75 359.00,148.50C362.33,149.25 365.67,150.08 369.00,150.50C372.33,150.92 375.67,150.92 379.00,151.00C382.33,151.08 385.58,151.08 389.00,151.00C392.42,150.92 396.07,150.52 399.50,150.50C402.93,150.48 406.23,150.82 409.60,150.90C412.97,150.98 416.35,151.37 419.70,151.00C423.05,150.63 426.35,149.87 429.70,148.70C433.05,147.53 436.48,145.83 439.80,144.00C443.12,142.17 446.27,139.58 449.60,137.70C452.93,135.82 456.40,134.62 459.80,132.70C463.20,130.78 466.62,128.23 470.00,126.20C473.38,124.17 476.75,122.45 480.10,120.50C483.45,118.55 486.83,116.25 490.10,114.50C493.37,112.75 498.10,110.75 499.70,110.00" fill="none" stroke="url(#g0_18)" stroke-width="6.2" stroke-linejoin="round" stroke-linecap="butt"/>
<linearGradient id="g0_19" gradientUnits="userSpaceOnUse" x1="399.5" y1="0" x2="499.7" y2="0"><stop offset="0.0000" stop-color="#c0c0c0"/><stop offset="0.1018" stop-color="#c0c0c0"/><stop offset="0.2006" stop-color="#c0c0c0"/><stop offset="0.3004" stop-color="#c0c0c0"/><stop offset="0.4042" stop-color="#c0c0c0"/><stop offset="0.5000" stop-color="#c0c0c0"/><stop offset="0.6038" stop-color="#c0c0c0"/><stop offset="0.7006" stop-color="#c0c0c0"/><stop offset="0.8044" stop-color="#c0c0c0"/><stop offset="0.9002" stop-color="#c0c0c0"/><stop offset="1.0000" stop-color="#c0c0c0"/></linearGradient>
<path d="M399.50,111.00C401.20,111.40 406.35,112.43 409.70,113.40C413.05,114.37 416.28,115.50 419.60,116.80C422.92,118.10 426.20,119.45 429.60,121.20C433.00,122.95 436.67,125.42 440.00,127.30C443.33,129.18 446.27,130.63 449.60,132.50C452.93,134.37 456.65,136.55 460.00,138.50C463.35,140.45 466.35,142.53 469.70,144.20C473.05,145.87 476.77,147.30 480.10,148.50C483.43,149.70 486.43,150.48 489.70,151.40C492.97,152.32 498.03,153.57 499.70,154.00" fill="none" stroke="url(#g0_19)" stroke-width="6.2" stroke-linejoin="round" stroke-linecap="butt"/>
<linearGradient id="g0_20" gradientUnits="userSpaceOnUse" x1="499.7" y1="0" x2="599.2" y2="0"><stop offset="0.0000" stop-color="#e25757"/><stop offset="0.1025" stop-color="#e25757"/><stop offset="0.2040" stop-color="#e05d5d"/><stop offset="0.2995" stop-color="#dd6868"/><stop offset="0.4010" stop-color="#d97373"/><stop offset="0.5035" stop-color="#d48282"/><stop offset="0.6060" stop-color="#ce9696"/><stop offset="0.7005" stop-color="#c7acac"/><stop offset="0.8030" stop-color="#c2baba"/><stop offset="0.8975" stop-color="#c0bfbf"/><stop offset="1.0000" stop-color="#c0bfbf"/></linearGradient>
<path d="M499.70,155.50C501.40,155.38 506.52,155.32 509.90,154.80C513.28,154.28 516.73,153.18 520.00,152.40C523.27,151.62 526.23,150.75 529.50,150.10C532.77,149.45 536.22,149.03 539.60,148.50C542.98,147.97 546.40,147.37 549.80,146.90C553.20,146.43 556.73,146.00 560.00,145.70C563.27,145.40 566.13,145.15 569.40,145.10C572.67,145.05 576.33,145.17 579.60,145.40C582.87,145.63 585.73,146.15 589.00,146.50C592.27,146.85 597.50,147.33 599.20,147.50" fill="none" stroke="url(#g0_20)" stroke-width="6.2" stroke-linejoin="round" stroke-linecap="butt"/>
<linearGradient id="g0_21" gradientUnits="userSpaceOnUse" x1="155" y1="0" x2="399.5" y2="0"><stop offset="0.0000" stop-color="#dd6868"/><stop offset="0.0519" stop-color="#e74a4a"/><stop offset="0.0912" stop-color="#f22828"/><stop offset="0.1337" stop-color="#ff0000"/><stop offset="0.1767" stop-color="#ff0000"/><stop offset="0.2160" stop-color="#ff0000"/><stop offset="0.2589" stop-color="#ff0000"/><stop offset="0.3014" stop-color="#ff0000"/><stop offset="0.3407" stop-color="#ff0000"/><stop offset="0.4008" stop-color="#ff0000"/><stop offset="0.4908" stop-color="#ff0000"/><stop offset="0.5521" stop-color="#ff0000"/><stop offset="0.5930" stop-color="#ff0000"/><stop offset="0.6274" stop-color="#ff0000"/><stop offset="0.6708" stop-color="#ff0000"/><stop offset="0.7157" stop-color="#ff0000"/><stop offset="0.7771" stop-color="#ff0000"/><stop offset="0.8413" stop-color="#ff0000"/><stop offset="0.8875" stop-color="#fa0000"/><stop offset="0.9366" stop-color="#e80000"/><stop offset="0.9693" stop-color="#d10000"/><stop offset="1.0000" stop-color="#b90000"/></linearGradient>
<path d="M155.00,157.00C157.12,157.28 163.98,158.10 167.70,158.70C171.42,159.30 173.97,159.93 177.30,160.60C180.63,161.27 184.22,162.13 187.70,162.70C191.18,163.27 194.85,163.53 198.20,164.00C201.55,164.47 204.45,165.10 207.80,165.50C211.15,165.90 214.82,166.13 218.30,166.40C221.78,166.67 225.37,166.90 228.70,167.10C232.03,167.30 234.25,167.50 238.30,167.60C242.35,167.70 246.88,167.80 253.00,167.70C259.12,167.60 268.83,167.45 275.00,167.00C281.17,166.55 285.83,165.87 290.00,165.00C294.17,164.13 296.93,162.77 300.00,161.80C303.07,160.83 305.23,160.00 308.40,159.20C311.57,158.40 315.40,157.70 319.00,157.00C322.60,156.30 325.67,156.03 330.00,155.00C334.33,153.97 339.88,152.05 345.00,150.80C350.12,149.55 356.20,148.55 360.70,147.50C365.20,146.45 368.12,145.53 372.00,144.50C375.88,143.47 380.67,142.13 384.00,141.30C387.33,140.47 389.42,139.97 392.00,139.50C394.58,139.03 398.25,138.67 399.50,138.50" fill="none" stroke="url(#g0_21)" stroke-width="6.2" stroke-linejoin="round" stroke-linecap="butt"/>
<linearGradient id="g0_22" gradientUnits="userSpaceOnUse" x1="288" y1="0" x2="499.7" y2="0"><stop offset="0.0000" stop-color="#ce9696"/><stop offset="0.0567" stop-color="#d48282"/><stop offset="0.0964" stop-color="#d48282"/><stop offset="0.1464" stop-color="#d87878"/><stop offset="0.1984" stop-color="#dd6868"/><stop offset="0.2456" stop-color="#f22828"/><stop offset="0.2929" stop-color="#d10000"/><stop offset="0.3401" stop-color="#a20000"/><stop offset="0.3873" stop-color="#970000"/><stop offset="0.4346" stop-color="#970000"/><stop offset="0.4818" stop-color="#970000"/><stop offset="0.5267" stop-color="#970000"/><stop offset="0.6221" stop-color="#970000"/><stop offset="0.7171" stop-color="#970000"/><stop offset="0.8115" stop-color="#970000"/><stop offset="0.9074" stop-color="#a20000"/><stop offset="1.0000" stop-color="#ae0000"/></linearGradient>
<path d="M288.00,152.30C290.00,152.50 296.60,153.02 300.00,153.50C303.40,153.98 305.23,154.45 308.40,155.20C311.57,155.95 315.40,157.32 319.00,158.00C322.60,158.68 326.50,159.03 330.00,159.30C333.50,159.57 336.67,159.48 340.00,159.60C343.33,159.72 346.67,159.85 350.00,160.00C353.33,160.15 356.67,160.33 360.00,160.50C363.33,160.67 366.67,160.92 370.00,161.00C373.33,161.08 376.67,161.00 380.00,161.00C383.33,161.00 386.75,161.00 390.00,161.00C393.25,161.00 394.55,160.95 399.50,161.00C404.45,161.05 412.98,161.22 419.70,161.30C426.42,161.38 433.12,161.52 439.80,161.50C446.48,161.48 453.08,161.40 459.80,161.20C466.52,161.00 473.45,160.62 480.10,160.30C486.75,159.98 496.43,159.47 499.70,159.30" fill="none" stroke="url(#g0_22)" stroke-width="6.2" stroke-linejoin="round" stroke-linecap="butt"/>
<linearGradient id="g0_23" gradientUnits="userSpaceOnUse" x1="253" y1="0" x2="499.7" y2="0"><stop offset="0.0000" stop-color="#ff0000"/><stop offset="0.1824" stop-color="#ff0000"/><stop offset="0.2254" stop-color="#ff0000"/><stop offset="0.2659" stop-color="#ff0000"/><stop offset="0.3073" stop-color="#f30000"/><stop offset="0.3891" stop-color="#d10000"/><stop offset="0.4297" stop-color="#b90000"/><stop offset="0.4702" stop-color="#a20000"/><stop offset="0.5107" stop-color="#970000"/><stop offset="0.5513" stop-color="#970000"/><stop offset="0.5938" stop-color="#970000"/><stop offset="0.6757" stop-color="#970000"/><stop offset="0.7572" stop-color="#970000"/><stop offset="0.7969" stop-color="#970000"/><stop offset="0.8383" stop-color="#970000"/><stop offset="0.8796" stop-color="#970000"/><stop offset="0.9206" stop-color="#970000"/><stop offset="0.9611" stop-color="#a20000"/><stop offset="1.0000" stop-color="#ae0000"/></linearGradient>
<path d="M253.00,167.70C260.50,167.60 288.73,167.30 298.00,167.10C307.27,166.90 305.17,166.68 308.60,166.50C312.03,166.32 315.23,166.03 318.60,166.00C321.97,165.97 323.73,166.22 328.80,166.30C333.87,166.38 343.97,166.38 349.00,166.50C354.03,166.62 355.67,166.70 359.00,167.00C362.33,167.30 365.67,167.97 369.00,168.30C372.33,168.63 375.67,168.78 379.00,169.00C382.33,169.22 385.58,169.50 389.00,169.60C392.42,169.70 394.38,169.70 399.50,169.60C404.62,169.50 412.98,169.32 419.70,169.00C426.42,168.68 434.82,168.13 439.80,167.70C444.78,167.27 446.27,166.80 449.60,166.40C452.93,166.00 456.40,165.70 459.80,165.30C463.20,164.90 466.62,164.47 470.00,164.00C473.38,163.53 476.75,163.00 480.10,162.50C483.45,162.00 486.83,161.42 490.10,161.00C493.37,160.58 498.10,160.17 499.70,160.00" fill="none" stroke="url(#g0_23)" stroke-width="6.2" stroke-linejoin="round" stroke-linecap="butt"/>
<linearGradient id="g0_24" gradientUnits="userSpaceOnUse" x1="499.7" y1="0" x2="599.2" y2="0"><stop offset="0.0000" stop-color="#b90000"/><stop offset="0.1025" stop-color="#e80000"/><stop offset="0.2040" stop-color="#ff0000"/><stop offset="0.2995" stop-color="#ff0000"/><stop offset="0.4010" stop-color="#ff0000"/><stop offset="0.5035" stop-color="#ff0000"/><stop offset="0.6060" stop-color="#ff0000"/><stop offset="0.7005" stop-color="#ff0000"/><stop offset="0.8030" stop-color="#ff0000"/><stop offset="1.0000" stop-color="#ff0000"/></linearGradient>
<path d="M499.70,159.50C501.40,159.67 506.52,160.08 509.90,160.50C513.28,160.92 516.73,161.52 520.00,162.00C523.27,162.48 526.23,162.97 529.50,163.40C532.77,163.83 536.22,164.22 539.60,164.60C542.98,164.98 546.40,165.38 549.80,165.70C553.20,166.02 556.73,166.28 560.00,166.50C563.27,166.72 566.13,166.87 569.40,167.00C572.67,167.13 574.63,167.22 579.60,167.30C584.57,167.38 595.93,167.47 599.20,167.50" fill="none" stroke="url(#g0_24)" stroke-width="6.2" stroke-linejoin="round" stroke-linecap="butt"/>
<linearGradient id="g0_25" gradientUnits="userSpaceOnUse" x1="499.7" y1="0" x2="579.6" y2="0"><stop offset="0.0000" stop-color="#dd6868"/><stop offset="0.1277" stop-color="#dd6868"/><stop offset="0.2541" stop-color="#dd6868"/><stop offset="0.3730" stop-color="#dd6868"/><stop offset="0.4994" stop-color="#e05d5d"/><stop offset="0.6270" stop-color="#e74a4a"/><stop offset="0.7547" stop-color="#f22828"/><stop offset="0.8723" stop-color="#ff0000"/><stop offset="1.0000" stop-color="#ff0000"/></linearGradient>
<path d="M499.70,156.00C501.40,155.75 506.52,155.25 509.90,154.50C513.28,153.75 516.73,152.70 520.00,151.50C523.27,150.30 526.23,148.75 529.50,147.30C532.77,145.85 536.22,144.30 539.60,142.80C542.98,141.30 546.40,139.80 549.80,138.30C553.20,136.80 556.73,135.22 560.00,133.80C563.27,132.38 566.13,130.83 569.40,129.80C572.67,128.77 577.90,127.97 579.60,127.60" fill="none" stroke="url(#g0_25)" stroke-width="6.2" stroke-linejoin="round" stroke-linecap="butt"/>
<linearGradient id="g0_26" gradientUnits="userSpaceOnUse" x1="399.5" y1="0" x2="499.7" y2="0"><stop offset="0.0000" stop-color="#b90000"/><stop offset="0.1008" stop-color="#c50000"/><stop offset="0.2016" stop-color="#cc0000"/><stop offset="0.3014" stop-color="#cc0000"/><stop offset="0.4022" stop-color="#cc0000"/><stop offset="0.5000" stop-color="#cc0000"/><stop offset="0.6018" stop-color="#c50000"/><stop offset="0.7036" stop-color="#b90000"/><stop offset="0.8044" stop-color="#ae0000"/><stop offset="0.9042" stop-color="#ae0000"/><stop offset="1.0000" stop-color="#ae0000"/></linearGradient>
<path d="M399.50,139.00C401.18,139.17 406.23,139.58 409.60,140.00C412.97,140.42 416.35,140.92 419.70,141.50C423.05,142.08 426.35,142.75 429.70,143.50C433.05,144.25 436.48,145.25 439.80,146.00C443.12,146.75 446.27,147.30 449.60,148.00C452.93,148.70 456.40,149.53 459.80,150.20C463.20,150.87 466.62,151.40 470.00,152.00C473.38,152.60 476.75,153.25 480.10,153.80C483.45,154.35 486.83,154.88 490.10,155.30C493.37,155.72 498.10,156.13 499.70,156.30" fill="none" stroke="url(#g0_26)" stroke-width="6.2" stroke-linejoin="round" stroke-linecap="butt"/>
<linearGradient id="g0_27" gradientUnits="userSpaceOnUse" x1="253" y1="0" x2="399.5" y2="0"><stop offset="0.0000" stop-color="#ff0000"/><stop offset="0.1024" stop-color="#ff0000"/><stop offset="0.1706" stop-color="#ff0000"/><stop offset="0.2389" stop-color="#ff0000"/><stop offset="0.3072" stop-color="#ff0000"/><stop offset="0.3795" stop-color="#ff0000"/><stop offset="0.4478" stop-color="#ff0000"/><stop offset="0.5174" stop-color="#ff0000"/><stop offset="0.5870" stop-color="#ff0000"/><stop offset="0.6553" stop-color="#f30000"/><stop offset="0.7235" stop-color="#dc0000"/><stop offset="0.7918" stop-color="#c50000"/><stop offset="0.8601" stop-color="#ae0000"/><stop offset="0.9283" stop-color="#a20000"/><stop offset="1.0000" stop-color="#a20000"/></linearGradient>
<path d="M253.00,126.00C255.50,126.30 263.83,127.37 268.00,127.80C272.17,128.23 274.67,128.20 278.00,128.60C281.33,129.00 284.67,129.60 288.00,130.20C291.33,130.80 294.57,131.43 298.00,132.20C301.43,132.97 305.17,134.37 308.60,134.80C312.03,135.23 315.23,134.63 318.60,134.80C321.97,134.97 325.40,135.55 328.80,135.80C332.20,136.05 335.63,136.03 339.00,136.30C342.37,136.57 345.67,137.22 349.00,137.40C352.33,137.58 355.67,137.23 359.00,137.40C362.33,137.57 365.67,138.28 369.00,138.40C372.33,138.52 375.67,138.08 379.00,138.10C382.33,138.12 385.58,138.43 389.00,138.50C392.42,138.57 397.75,138.50 399.50,138.50" fill="none" stroke="url(#g0_27)" stroke-width="6.2" stroke-linejoin="round" stroke-linecap="butt"/>
<linearGradient id="g0_28" gradientUnits="userSpaceOnUse" x1="399.5" y1="0" x2="499.7" y2="0"><stop offset="0.0000" stop-color="#dc0000"/><stop offset="0.1018" stop-color="#dc0000"/><stop offset="0.2006" stop-color="#dc0000"/><stop offset="0.3004" stop-color="#dc0000"/><stop offset="0.3643" stop-color="#dc0000"/><stop offset="0.4591" stop-color="#dc0000"/><stop offset="0.5539" stop-color="#dc0000"/><stop offset="0.6537" stop-color="#dc0000"/><stop offset="0.7236" stop-color="#d10000"/><stop offset="0.8044" stop-color="#c50000"/><stop offset="0.9002" stop-color="#b90000"/><stop offset="1.0000" stop-color="#ae0000"/></linearGradient>
<path d="M399.50,113.50C401.20,114.25 406.35,116.17 409.70,118.00C413.05,119.83 416.28,122.40 419.60,124.50C422.92,126.60 426.87,129.02 429.60,130.60C432.33,132.18 433.35,132.50 436.00,134.00C438.65,135.50 442.33,137.80 445.50,139.60C448.67,141.40 451.75,143.13 455.00,144.80C458.25,146.47 462.17,148.30 465.00,149.60C467.83,150.90 469.48,151.45 472.00,152.60C474.52,153.75 477.15,155.52 480.10,156.50C483.05,157.48 486.43,158.03 489.70,158.50C492.97,158.97 498.03,159.17 499.70,159.30" fill="none" stroke="url(#g0_28)" stroke-width="6.2" stroke-linejoin="round" stroke-linecap="butt"/>
<linearGradient id="g0_29" gradientUnits="userSpaceOnUse" x1="399.5" y1="0" x2="599.2" y2="0"><stop offset="0.0000" stop-color="#c8a6a6"/><stop offset="0.0501" stop-color="#d48282"/><stop offset="0.0981" stop-color="#d97373"/><stop offset="0.1502" stop-color="#df6363"/><stop offset="0.2028" stop-color="#e25757"/><stop offset="0.2509" stop-color="#e25757"/><stop offset="0.3030" stop-color="#e25757"/><stop offset="0.3515" stop-color="#e25757"/><stop offset="0.4036" stop-color="#e25757"/><stop offset="0.4517" stop-color="#e25757"/><stop offset="0.5018" stop-color="#e25757"/><stop offset="0.5528" stop-color="#dd6868"/><stop offset="0.6034" stop-color="#dd6868"/><stop offset="0.6510" stop-color="#dd6868"/><stop offset="0.7016" stop-color="#dd6868"/><stop offset="0.7526" stop-color="#e25757"/><stop offset="0.8037" stop-color="#eb3d3d"/><stop offset="0.8508" stop-color="#fa1010"/><stop offset="0.9019" stop-color="#ff0000"/><stop offset="1.0000" stop-color="#ff0000"/></linearGradient>
<path d="M399.50,135.00C401.17,134.87 406.23,134.47 409.50,134.20C412.77,133.93 415.77,133.88 419.10,133.40C422.43,132.92 426.02,131.92 429.50,131.30C432.98,130.68 436.65,130.32 440.00,129.70C443.35,129.08 446.27,128.27 449.60,127.60C452.93,126.93 456.65,126.33 460.00,125.70C463.35,125.07 466.35,124.73 469.70,123.80C473.05,122.87 476.77,121.38 480.10,120.10C483.43,118.82 486.43,117.32 489.70,116.10C492.97,114.88 496.33,113.20 499.70,112.80C503.07,112.40 506.52,113.15 509.90,113.70C513.28,114.25 516.73,115.25 520.00,116.10C523.27,116.95 526.23,117.88 529.50,118.80C532.77,119.72 536.22,120.75 539.60,121.60C542.98,122.45 546.40,123.12 549.80,123.90C553.20,124.68 556.73,125.65 560.00,126.30C563.27,126.95 566.13,127.62 569.40,127.80C572.67,127.98 574.63,127.57 579.60,127.40C584.57,127.23 595.93,126.90 599.20,126.80" fill="none" stroke="url(#g0_29)" stroke-width="6.2" stroke-linejoin="round" stroke-linecap="butt"/>
<linearGradient id="g0_30" gradientUnits="userSpaceOnUse" x1="399.5" y1="0" x2="499.7" y2="0"><stop offset="0.0000" stop-color="#f71818"/><stop offset="0.0998" stop-color="#f22828"/><stop offset="0.1956" stop-color="#f02f2f"/><stop offset="0.2994" stop-color="#ed3636"/><stop offset="0.4042" stop-color="#eb3d3d"/><stop offset="0.5000" stop-color="#e74a4a"/><stop offset="0.6038" stop-color="#e45151"/><stop offset="0.7006" stop-color="#e05d5d"/><stop offset="0.8044" stop-color="#df6363"/><stop offset="0.9002" stop-color="#dd6868"/><stop offset="1.0000" stop-color="#dd6868"/></linearGradient>
<path d="M399.50,110.50C401.17,109.83 406.23,107.83 409.50,106.50C412.77,105.17 415.77,103.87 419.10,102.50C422.43,101.13 426.02,99.68 429.50,98.30C432.98,96.92 436.65,95.53 440.00,94.20C443.35,92.87 446.27,91.57 449.60,90.30C452.93,89.03 456.65,87.82 460.00,86.60C463.35,85.38 466.35,84.22 469.70,83.00C473.05,81.78 476.77,80.55 480.10,79.30C483.43,78.05 486.43,76.68 489.70,75.50C492.97,74.32 498.03,72.75 499.70,72.20" fill="none" stroke="url(#g0_30)" stroke-width="6.2" stroke-linejoin="round" stroke-linecap="butt"/>
<linearGradient id="g0_31" gradientUnits="userSpaceOnUse" x1="155" y1="0" x2="399.5" y2="0"><stop offset="0.0000" stop-color="#e80000"/><stop offset="0.0519" stop-color="#f30000"/><stop offset="0.0937" stop-color="#ff0000"/><stop offset="0.1350" stop-color="#ff0000"/><stop offset="0.1759" stop-color="#ff0000"/><stop offset="0.2151" stop-color="#ff0000"/><stop offset="0.2556" stop-color="#ff0000"/><stop offset="0.2986" stop-color="#ff0000"/><stop offset="0.3378" stop-color="#ff0000"/><stop offset="0.3791" stop-color="#ff0000"/><stop offset="0.4008" stop-color="#ff0000"/><stop offset="0.4626" stop-color="#ff0000"/><stop offset="0.5460" stop-color="#ff0000"/><stop offset="0.5930" stop-color="#ff0000"/><stop offset="0.6748" stop-color="#ff0000"/><stop offset="0.7566" stop-color="#ff0000"/><stop offset="0.8180" stop-color="#ff0000"/><stop offset="0.8875" stop-color="#fa0000"/><stop offset="0.9571" stop-color="#e80000"/><stop offset="1.0000" stop-color="#d10000"/></linearGradient>
<path d="M155.00,156.00C157.12,155.58 163.88,154.42 167.70,153.50C171.52,152.58 174.52,151.52 177.90,150.50C181.28,149.48 184.65,148.50 188.00,147.40C191.35,146.30 194.73,145.22 198.00,143.90C201.27,142.58 204.35,141.12 207.60,139.50C210.85,137.88 214.10,135.82 217.50,134.20C220.90,132.58 224.65,130.95 228.00,129.80C231.35,128.65 234.32,127.87 237.60,127.30C240.88,126.73 245.13,126.57 247.70,126.40C250.27,126.23 249.60,126.80 253.00,126.30C256.40,125.80 262.18,124.52 268.10,123.40C274.02,122.28 283.18,120.53 288.50,119.60C293.82,118.67 294.75,118.22 300.00,117.80C305.25,117.38 313.33,117.27 320.00,117.10C326.67,116.93 334.17,116.88 340.00,116.80C345.83,116.72 349.67,116.83 355.00,116.60C360.33,116.37 366.33,115.75 372.00,115.40C377.67,115.05 384.42,114.73 389.00,114.50C393.58,114.27 397.75,114.08 399.50,114.00" fill="none" stroke="url(#g0_31)" stroke-width="6.2" stroke-linejoin="round" stroke-linecap="butt"/>
<linearGradient id="g0_32" gradientUnits="userSpaceOnUse" x1="58" y1="0" x2="156" y2="0"><stop offset="0.0000" stop-color="#c3b8b8"/><stop offset="0.1224" stop-color="#c4b2b2"/><stop offset="0.2245" stop-color="#c7acac"/><stop offset="0.3265" stop-color="#c8a6a6"/><stop offset="0.4286" stop-color="#c8a6a6"/><stop offset="0.5306" stop-color="#c8a6a6"/><stop offset="0.6327" stop-color="#c8a6a6"/><stop offset="0.7347" stop-color="#c8a6a6"/><stop offset="0.8367" stop-color="#caa0a0"/><stop offset="0.9388" stop-color="#ce9696"/><stop offset="1.0000" stop-color="#d48282"/></linearGradient>
<path d="M58.00,155.50C60.00,155.42 66.33,155.33 70.00,155.00C73.67,154.67 76.67,154.20 80.00,153.50C83.33,152.80 86.67,151.55 90.00,150.80C93.33,150.05 96.67,149.38 100.00,149.00C103.33,148.62 106.67,148.42 110.00,148.50C113.33,148.58 116.67,149.03 120.00,149.50C123.33,149.97 126.67,150.67 130.00,151.30C133.33,151.93 136.67,152.60 140.00,153.30C143.33,154.00 147.33,154.97 150.00,155.50C152.67,156.03 155.00,156.33 156.00,156.50" fill="none" stroke="url(#g0_32)" stroke-width="4.5" stroke-linejoin="round" stroke-linecap="butt"/>
<linearGradient id="g0_33" gradientUnits="userSpaceOnUse" x1="58" y1="0" x2="155" y2="0"><stop offset="0.0000" stop-color="#970000"/><stop offset="0.2062" stop-color="#970000"/><stop offset="0.4124" stop-color="#970000"/><stop offset="0.7216" stop-color="#970000"/><stop offset="0.9278" stop-color="#a20000"/><stop offset="1.0000" stop-color="#ae0000"/></linearGradient>
<path d="M58.00,161.00C61.33,160.98 71.33,160.98 78.00,160.90C84.67,160.82 89.67,160.75 98.00,160.50C106.33,160.25 119.67,159.90 128.00,159.40C136.33,158.90 143.50,157.98 148.00,157.50C152.50,157.02 153.83,156.67 155.00,156.50" fill="none" stroke="url(#g0_33)" stroke-width="6.2" stroke-linejoin="round" stroke-linecap="butt"/>
<linearGradient id="g0_34" gradientUnits="userSpaceOnUse" x1="58" y1="0" x2="155" y2="0"><stop offset="0.0000" stop-color="#970000"/><stop offset="0.2062" stop-color="#970000"/><stop offset="0.4124" stop-color="#970000"/><stop offset="0.6186" stop-color="#970000"/><stop offset="0.7216" stop-color="#970000"/><stop offset="0.9278" stop-color="#a20000"/><stop offset="1.0000" stop-color="#ae0000"/></linearGradient>
<path d="M58.00,169.70C61.33,169.63 71.33,169.63 78.00,169.30C84.67,168.97 91.33,168.42 98.00,167.70C104.67,166.98 113.00,165.78 118.00,165.00C123.00,164.22 123.00,164.05 128.00,163.00C133.00,161.95 143.50,159.70 148.00,158.70C152.50,157.70 153.83,157.28 155.00,157.00" fill="none" stroke="url(#g0_34)" stroke-width="6.2" stroke-linejoin="round" stroke-linecap="butt"/>
<linearGradient id="g0_35" gradientUnits="userSpaceOnUse" x1="58" y1="0" x2="155" y2="0"><stop offset="0.0000" stop-color="#970000"/><stop offset="0.2062" stop-color="#970000"/><stop offset="0.4124" stop-color="#970000"/><stop offset="0.6186" stop-color="#970000"/><stop offset="0.8144" stop-color="#9b0000"/><stop offset="0.9278" stop-color="#a20000"/><stop offset="1.0000" stop-color="#ae0000"/></linearGradient>
<path d="M58.00,139.60C61.33,139.82 71.33,140.02 78.00,140.90C84.67,141.78 91.33,143.62 98.00,144.90C104.67,146.18 111.50,147.47 118.00,148.60C124.50,149.73 132.00,150.80 137.00,151.70C142.00,152.60 145.00,153.37 148.00,154.00C151.00,154.63 153.83,155.25 155.00,155.50" fill="none" stroke="url(#g0_35)" stroke-width="6.2" stroke-linejoin="round" stroke-linecap="butt"/>
<linearGradient id="g0_36" gradientUnits="userSpaceOnUse" x1="58" y1="0" x2="155" y2="0"><stop offset="0.0000" stop-color="#970000"/><stop offset="0.1031" stop-color="#970000"/><stop offset="0.2062" stop-color="#970000"/><stop offset="0.3093" stop-color="#970000"/><stop offset="0.4124" stop-color="#970000"/><stop offset="0.5155" stop-color="#970000"/><stop offset="0.6186" stop-color="#970000"/><stop offset="0.7216" stop-color="#970000"/><stop offset="0.8247" stop-color="#9b0000"/><stop offset="0.9278" stop-color="#a20000"/><stop offset="1.0000" stop-color="#ae0000"/></linearGradient>
<path d="M58.00,114.00C59.67,114.13 64.67,114.20 68.00,114.80C71.33,115.40 74.67,116.40 78.00,117.60C81.33,118.80 84.67,120.23 88.00,122.00C91.33,123.77 94.67,126.25 98.00,128.20C101.33,130.15 104.67,131.93 108.00,133.70C111.33,135.47 114.67,136.98 118.00,138.80C121.33,140.62 124.67,142.85 128.00,144.60C131.33,146.35 134.67,147.73 138.00,149.30C141.33,150.87 145.17,152.88 148.00,154.00C150.83,155.12 153.83,155.67 155.00,156.00" fill="none" stroke="url(#g0_36)" stroke-width="6.2" stroke-linejoin="round" stroke-linecap="butt"/>
</g>
<line x1="58" y1="114.8" x2="599" y2="114.8" stroke="#ff0000" stroke-opacity="0.45" stroke-width="1.8"/>
<path d="M58.5,1V225M58,224.5H600" stroke="#3c3c3c" stroke-width="1" fill="none"/>
<path d="M599.5,1V225" stroke="#3c3c3c" stroke-width="1" fill="none"/>
<path d="M58,0.5H600" stroke="#bdbdbd" stroke-width="1" fill="none"/>
<path d="M58,1.5H600" stroke="#767676" stroke-width="1" fill="none"/>
<path d="M58.39,13.4h0.02M58.39,44.9h0.02M58.39,51.8h0.02M58.39,62.7h0.02M58.39,75.5h0.02M58.39,111.1h0.02M58.39,135.7h0.02M58.39,138.7h0.02M58.39,150.9h0.02M58.39,153.9h0.02M58.39,157.8h0.02M58.39,169.6h0.02M58.39,190.7h0.02M58.39,193.3h0.02M58.39,210.4h0.02M58.39,215.6h0.02M58.39,218.3h0.02M58.39,219.9h0.02M68.19,12.8h0.02M68.19,44.1h0.02M68.19,51.8h0.02M68.19,53.2h0.02M68.19,61.7h0.02M68.19,76.0h0.02M68.19,105.5h0.02M68.19,113.0h0.02M68.19,115.8h0.02M68.19,134.1h0.02M68.19,138.7h0.02M68.19,140.0h0.02M68.19,150.9h0.02M68.19,153.9h0.02M68.19,157.6h0.02M68.19,159.1h0.02M68.19,169.6h0.02M68.19,190.7h0.02M68.19,193.3h0.02M68.19,211.0h0.02M68.19,213.0h0.02M68.19,216.3h0.02M68.19,218.9h0.02M68.19,223.2h0.02M78.09,9.1h0.02M78.09,11.4h0.02M78.09,41.0h0.02M78.09,52.6h0.02M78.09,58.7h0.02M78.09,77.3h0.02M78.09,100.8h0.02M78.09,116.8h0.02M78.09,120.7h0.02M78.09,133.1h0.02M78.09,140.0h0.02M78.09,141.6h0.02M78.09,151.3h0.02M78.09,153.6h0.02M78.09,157.7h0.02M78.09,159.6h0.02M78.09,169.3h0.02M78.09,190.7h0.02M78.09,193.3h0.02M78.09,209.0h0.02M78.09,211.0h0.02M78.09,216.0h0.02M78.09,220.9h0.02M88.09,4.5h0.02M88.09,9.5h0.02M88.09,36.3h0.02M88.09,54.2h0.02M88.09,66.0h0.02M88.09,78.8h0.02M88.09,96.5h0.02M88.09,121.7h0.02M88.09,125.8h0.02M88.09,131.8h0.02M88.09,142.0h0.02M88.09,144.0h0.02M88.09,148.6h0.02M88.09,152.2h0.02M88.09,154.2h0.02M88.09,158.2h0.02M88.09,160.5h0.02M88.09,168.4h0.02M88.09,188.8h0.02M88.09,193.3h0.02M88.09,206.1h0.02M88.09,213.0h0.02M88.09,216.3h0.02M97.99,5.9h0.02M97.99,29.8h0.02M97.99,48.1h0.02M97.99,55.6h0.02M97.99,73.9h0.02M97.99,81.5h0.02M97.99,92.1h0.02M97.99,127.2h0.02M97.99,130.6h0.02M97.99,143.5h0.02M97.99,146.0h0.02M97.99,152.8h0.02M97.99,154.5h0.02M97.99,158.8h0.02M97.99,161.5h0.02M97.99,167.4h0.02M97.99,187.4h0.02M97.99,190.0h0.02M97.99,193.3h0.02M97.99,203.1h0.02M97.99,214.0h0.02M97.99,216.3h0.02M107.99,1.0h0.02M107.99,21.3h0.02M107.99,40.2h0.02M107.99,57.4h0.02M107.99,80.9h0.02M107.99,83.9h0.02M107.99,87.2h0.02M107.99,127.8h0.02M107.99,133.7h0.02M107.99,136.1h0.02M107.99,138.1h0.02M107.99,145.3h0.02M107.99,148.3h0.02M107.99,153.9h0.02M107.99,158.8h0.02M107.99,161.7h0.02M107.99,166.4h0.02M107.99,186.4h0.02M107.99,189.3h0.02M107.99,192.7h0.02M107.99,200.6h0.02M107.99,215.0h0.02M107.99,217.0h0.02M117.89,11.8h0.02M117.89,30.9h0.02M117.89,59.1h0.02M117.89,83.9h0.02M117.89,88.4h0.02M117.89,125.3h0.02M117.89,132.9h0.02M117.89,138.0h0.02M117.89,140.5h0.02M117.89,147.2h0.02M117.89,150.0h0.02M117.89,154.3h0.02M117.89,159.0h0.02M117.89,161.5h0.02M117.89,165.0h0.02M117.89,185.4h0.02M117.89,188.8h0.02M117.89,191.9h0.02M117.89,198.2h0.02M117.89,217.0h0.02M127.69,20.5h0.02M127.69,61.7h0.02M127.69,79.5h0.02M127.69,92.3h0.02M127.69,95.7h0.02M127.69,122.3h0.02M127.69,126.8h0.02M127.69,143.6h0.02M127.69,149.6h0.02M127.69,151.6h0.02M127.69,154.8h0.02M127.69,159.2h0.02M127.69,161.6h0.02M127.69,163.8h0.02M127.69,185.4h0.02M127.69,188.8h0.02M127.69,191.9h0.02M127.69,196.6h0.02M127.69,218.3h0.02M137.79,9.1h0.02M137.79,64.0h0.02M137.79,76.5h0.02M137.79,97.1h0.02M137.79,102.2h0.02M137.79,119.3h0.02M137.79,120.9h0.02M137.79,148.2h0.02M137.79,151.6h0.02M137.79,153.8h0.02M137.79,156.0h0.02M137.79,158.5h0.02M137.79,161.3h0.02M137.79,185.4h0.02M137.79,188.0h0.02M137.79,191.9h0.02M137.79,193.3h0.02M137.79,218.9h0.02M147.59,67.0h0.02M147.59,73.3h0.02M147.59,102.6h0.02M147.59,107.5h0.02M147.59,114.4h0.02M147.59,116.4h0.02M147.59,150.9h0.02M147.59,153.9h0.02M147.59,156.8h0.02M147.59,159.8h0.02M147.59,186.0h0.02M147.59,188.8h0.02M147.59,191.9h0.02M147.59,219.5h0.02M157.69,70.0h0.02M157.69,108.5h0.02M157.69,112.1h0.02M157.69,153.8h0.02M157.69,155.2h0.02M157.69,158.4h0.02M157.69,186.0h0.02M157.69,192.7h0.02M157.69,219.9h0.02M167.69,71.1h0.02M167.69,107.1h0.02M167.69,113.0h0.02M167.69,150.9h0.02M167.69,155.2h0.02M167.69,159.2h0.02M167.69,186.0h0.02M167.69,192.3h0.02M167.69,220.9h0.02M177.59,74.3h0.02M177.59,105.9h0.02M177.59,116.0h0.02M177.59,147.2h0.02M177.59,153.3h0.02M177.59,155.2h0.02M177.59,160.4h0.02M177.59,186.0h0.02M177.59,190.7h0.02M187.59,78.7h0.02M187.59,104.6h0.02M187.59,118.4h0.02M187.59,143.0h0.02M187.59,150.9h0.02M187.59,155.5h0.02M187.59,162.3h0.02M187.59,185.7h0.02M187.59,188.8h0.02M197.79,84.3h0.02M197.79,103.8h0.02M197.79,121.3h0.02M197.79,139.0h0.02M197.79,149.1h0.02M197.79,153.8h0.02M197.79,155.2h0.02M197.79,163.7h0.02M197.79,165.1h0.02M197.79,186.0h0.02M197.79,187.4h0.02M207.89,90.2h0.02M207.89,103.2h0.02M207.89,123.9h0.02M207.89,134.7h0.02M207.89,147.4h0.02M207.89,154.4h0.02M207.89,164.3h0.02M207.89,166.3h0.02M207.89,186.0h0.02M217.89,95.7h0.02M217.89,103.0h0.02M217.89,126.2h0.02M217.89,131.2h0.02M217.89,145.8h0.02M217.89,153.7h0.02M217.89,165.7h0.02M217.89,167.1h0.02M217.89,185.4h0.02M227.99,99.6h0.02M227.99,103.0h0.02M227.99,127.8h0.02M227.99,145.0h0.02M227.99,152.9h0.02M227.99,166.7h0.02M227.99,185.4h0.02M237.99,103.6h0.02M237.99,126.6h0.02M237.99,128.2h0.02M237.99,145.0h0.02M237.99,151.4h0.02M237.99,167.1h0.02M237.99,185.0h0.02M248.09,104.6h0.02M248.09,125.3h0.02M248.09,127.8h0.02M248.09,146.4h0.02M248.09,149.4h0.02M248.09,167.7h0.02M248.09,185.0h0.02M258.09,105.0h0.02M258.09,126.6h0.02M258.09,147.9h0.02M258.09,167.7h0.02M258.09,185.0h0.02M268.19,104.2h0.02M268.19,105.5h0.02M268.19,125.3h0.02M268.19,127.8h0.02M268.19,145.5h0.02M268.19,148.5h0.02M268.19,150.2h0.02M268.19,167.7h0.02M268.19,185.0h0.02M278.19,102.2h0.02M278.19,104.6h0.02M278.19,123.3h0.02M278.19,128.6h0.02M278.19,142.4h0.02M278.19,150.4h0.02M278.19,152.5h0.02M278.19,166.3h0.02M278.19,167.7h0.02M278.19,185.0h0.02M288.29,100.2h0.02M288.29,104.6h0.02M288.29,121.9h0.02M288.29,130.2h0.02M288.29,139.4h0.02M288.29,150.7h0.02M288.29,152.9h0.02M288.29,164.7h0.02M288.29,167.7h0.02M288.29,185.4h0.02M298.29,96.7h0.02M298.29,98.7h0.02M298.29,104.6h0.02M298.29,120.3h0.02M298.29,132.2h0.02M298.29,137.1h0.02M298.29,152.9h0.02M298.29,163.7h0.02M298.29,167.1h0.02M298.29,186.0h0.02M308.59,92.7h0.02M308.59,96.3h0.02M308.59,103.6h0.02M308.59,118.8h0.02M308.59,133.7h0.02M308.59,135.1h0.02M308.59,151.9h0.02M308.59,154.9h0.02M308.59,162.3h0.02M308.59,166.7h0.02M308.59,186.0h0.02M318.59,9.9h0.02M318.59,88.2h0.02M318.59,93.3h0.02M318.59,103.2h0.02M318.59,117.4h0.02M318.59,132.7h0.02M318.59,135.7h0.02M318.59,138.5h0.02M318.59,150.5h0.02M318.59,157.2h0.02M318.59,159.2h0.02M318.59,162.3h0.02M318.59,165.7h0.02M318.59,186.4h0.02M318.59,188.0h0.02M328.79,4.3h0.02M328.79,20.7h0.02M328.79,82.9h0.02M328.79,90.2h0.02M328.79,102.0h0.02M328.79,116.4h0.02M328.79,132.2h0.02M328.79,136.0h0.02M328.79,140.7h0.02M328.79,148.3h0.02M328.79,157.8h0.02M328.79,159.6h0.02M328.79,161.6h0.02M328.79,166.3h0.02M328.79,186.4h0.02M328.79,188.8h0.02M339.09,13.4h0.02M339.09,30.9h0.02M339.09,77.5h0.02M339.09,86.8h0.02M339.09,101.2h0.02M339.09,115.8h0.02M339.09,132.2h0.02M339.09,136.3h0.02M339.09,143.3h0.02M339.09,145.6h0.02M339.09,155.0h0.02M339.09,159.0h0.02M339.09,166.3h0.02M339.09,187.4h0.02M339.09,191.9h0.02M348.89,22.1h0.02M348.89,40.0h0.02M348.89,71.9h0.02M348.89,83.9h0.02M348.89,101.0h0.02M348.89,113.8h0.02M348.89,132.0h0.02M348.89,137.3h0.02M348.89,141.4h0.02M348.89,146.7h0.02M348.89,152.0h0.02M348.89,155.8h0.02M348.89,160.2h0.02M348.89,166.8h0.02M348.89,188.8h0.02M348.89,194.3h0.02M359.19,2.8h0.02M359.19,29.8h0.02M359.19,47.9h0.02M359.19,66.2h0.02M359.19,81.1h0.02M359.19,101.0h0.02M359.19,113.0h0.02M359.19,132.4h0.02M359.19,135.8h0.02M359.19,138.3h0.02M359.19,149.0h0.02M359.19,153.4h0.02M359.19,159.5h0.02M359.19,167.6h0.02M359.19,189.9h0.02M359.19,197.8h0.02M369.19,7.1h0.02M369.19,36.3h0.02M369.19,54.2h0.02M369.19,60.7h0.02M369.19,78.5h0.02M369.19,102.0h0.02M369.19,112.0h0.02M369.19,129.0h0.02M369.19,132.8h0.02M369.19,138.3h0.02M369.19,145.9h0.02M369.19,150.8h0.02M369.19,152.5h0.02M369.19,159.1h0.02M369.19,168.6h0.02M369.19,190.7h0.02M369.19,201.8h0.02M369.19,221.5h0.02M379.29,10.2h0.02M379.29,41.0h0.02M379.29,56.2h0.02M379.29,58.5h0.02M379.29,77.2h0.02M379.29,103.6h0.02M379.29,111.5h0.02M379.29,122.7h0.02M379.29,133.7h0.02M379.29,138.1h0.02M379.29,142.4h0.02M379.29,150.9h0.02M379.29,153.4h0.02M379.29,158.8h0.02M379.29,169.0h0.02M379.29,190.7h0.02M379.29,192.3h0.02M379.29,205.7h0.02M379.29,217.9h0.02M379.29,219.9h0.02M389.29,13.0h0.02M389.29,44.1h0.02M389.29,52.8h0.02M389.29,61.9h0.02M389.29,76.3h0.02M389.29,106.5h0.02M389.29,111.1h0.02M389.29,116.4h0.02M389.29,134.1h0.02M389.29,138.5h0.02M389.29,140.0h0.02M389.29,150.9h0.02M389.29,153.1h0.02M389.29,158.4h0.02M389.29,169.6h0.02M389.29,190.7h0.02M389.29,192.3h0.02M389.29,209.0h0.02M389.29,215.0h0.02M389.29,216.9h0.02M389.29,218.3h0.02M389.29,222.8h0.02M399.59,13.8h0.02M399.59,45.1h0.02M399.59,51.6h0.02M399.59,63.1h0.02M399.59,75.7h0.02M399.59,110.1h0.02M399.59,111.5h0.02M399.59,135.1h0.02M399.59,138.5h0.02M399.59,150.5h0.02M399.59,153.1h0.02M399.59,158.4h0.02M399.59,169.6h0.02M399.59,190.7h0.02M399.59,193.3h0.02M399.59,211.0h0.02M399.59,215.0h0.02M399.59,216.9h0.02M399.59,219.5h0.02M399.59,222.8h0.02M409.59,12.2h0.02M409.59,13.8h0.02M409.59,44.1h0.02M409.59,51.6h0.02M409.59,53.2h0.02M409.59,61.9h0.02M409.59,76.3h0.02M409.59,106.5h0.02M409.59,111.5h0.02M409.59,116.0h0.02M409.59,134.1h0.02M409.59,139.1h0.02M409.59,150.9h0.02M409.59,153.4h0.02M409.59,158.4h0.02M409.59,169.6h0.02M409.59,190.7h0.02M409.59,193.3h0.02M409.59,209.0h0.02M409.59,215.0h0.02M409.59,216.9h0.02M409.59,221.9h0.02M419.69,8.7h0.02M419.69,12.6h0.02M419.69,41.0h0.02M419.69,52.8h0.02M419.69,58.9h0.02M419.69,77.3h0.02M419.69,101.6h0.02M419.69,115.4h0.02M419.69,120.7h0.02M419.69,133.1h0.02M419.69,140.0h0.02M419.69,151.2h0.02M419.69,153.1h0.02M419.69,158.4h0.02M419.69,169.0h0.02M419.69,190.7h0.02M419.69,192.3h0.02M419.69,206.1h0.02M419.69,216.3h0.02M419.69,220.3h0.02M429.69,4.3h0.02M429.69,10.2h0.02M429.69,36.1h0.02M429.69,53.6h0.02M429.69,66.4h0.02M429.69,78.4h0.02M429.69,97.1h0.02M429.69,120.5h0.02M429.69,125.6h0.02M429.69,131.7h0.02M429.69,141.1h0.02M429.69,143.3h0.02M429.69,148.2h0.02M429.69,151.4h0.02M429.69,154.5h0.02M429.69,159.3h0.02M429.69,168.4h0.02M429.69,190.7h0.02M429.69,192.3h0.02M429.69,203.7h0.02M429.69,217.5h0.02M439.79,6.5h0.02M439.79,29.2h0.02M439.79,47.5h0.02M439.79,55.8h0.02M439.79,73.9h0.02M439.79,80.9h0.02M439.79,93.1h0.02M439.79,126.1h0.02M439.79,130.2h0.02M439.79,143.4h0.02M439.79,145.4h0.02M439.79,152.6h0.02M439.79,154.6h0.02M439.79,159.7h0.02M439.79,167.3h0.02M439.79,189.9h0.02M439.79,191.9h0.02M439.79,201.2h0.02M439.79,218.3h0.02M449.59,1.2h0.02M449.59,20.7h0.02M449.59,39.4h0.02M449.59,57.9h0.02M449.59,81.9h0.02M449.59,83.8h0.02M449.59,88.8h0.02M449.59,127.6h0.02M449.59,132.2h0.02M449.59,135.8h0.02M449.59,138.3h0.02M449.59,144.9h0.02M449.59,147.5h0.02M449.59,153.6h0.02M449.59,155.1h0.02M449.59,160.7h0.02M449.59,166.3h0.02M449.59,187.9h0.02M449.59,191.5h0.02M449.59,196.6h0.02M449.59,198.5h0.02M449.59,218.7h0.02M449.59,221.1h0.02M459.79,10.6h0.02M459.79,29.8h0.02M459.79,60.4h0.02M459.79,85.4h0.02M459.79,87.7h0.02M459.79,90.0h0.02M459.79,125.6h0.02M459.79,132.6h0.02M459.79,137.7h0.02M459.79,140.5h0.02M459.79,147.2h0.02M459.79,149.6h0.02M459.79,154.7h0.02M459.79,160.3h0.02M459.79,161.8h0.02M459.79,165.2h0.02M459.79,187.0h0.02M459.79,189.3h0.02M459.79,191.1h0.02M459.79,196.9h0.02M459.79,218.4h0.02M459.79,222.3h0.02M469.99,18.9h0.02M469.99,62.5h0.02M469.99,81.5h0.02M469.99,92.3h0.02M469.99,96.5h0.02M469.99,122.9h0.02M469.99,126.6h0.02M469.99,143.3h0.02M469.99,144.8h0.02M469.99,148.4h0.02M469.99,150.8h0.02M469.99,154.5h0.02M469.99,159.6h0.02M469.99,161.8h0.02M469.99,163.9h0.02M469.99,187.0h0.02M469.99,190.0h0.02M469.99,194.6h0.02M469.99,219.3h0.02M469.99,223.4h0.02M480.09,6.9h0.02M480.09,65.3h0.02M480.09,77.8h0.02M480.09,96.9h0.02M480.09,102.2h0.02M480.09,120.3h0.02M480.09,147.8h0.02M480.09,149.6h0.02M480.09,151.4h0.02M480.09,153.9h0.02M480.09,155.9h0.02M480.09,160.0h0.02M480.09,161.8h0.02M480.09,187.0h0.02M480.09,190.7h0.02M480.09,193.9h0.02M480.09,220.0h0.02M490.09,68.3h0.02M490.09,74.3h0.02M490.09,102.0h0.02M490.09,108.0h0.02M490.09,113.8h0.02M490.09,117.0h0.02M490.09,152.7h0.02M490.09,156.5h0.02M490.09,159.3h0.02M490.09,187.0h0.02M490.09,192.3h0.02M490.09,221.1h0.02M499.99,71.3h0.02M499.99,108.0h0.02M499.99,111.9h0.02M499.99,155.0h0.02M499.99,157.7h0.02M499.99,187.0h0.02M499.99,191.6h0.02M499.99,223.0h0.02M509.89,72.2h0.02M509.89,106.8h0.02M509.89,113.1h0.02M509.89,151.3h0.02M509.89,154.7h0.02M509.89,158.8h0.02M509.89,187.0h0.02M509.89,191.1h0.02M509.89,223.9h0.02M519.79,75.5h0.02M519.79,105.0h0.02M519.79,116.5h0.02M519.79,147.8h0.02M519.79,153.3h0.02M519.79,156.9h0.02M519.79,161.2h0.02M519.79,187.0h0.02M519.79,190.0h0.02M529.99,79.6h0.02M529.99,104.5h0.02M529.99,118.4h0.02M529.99,143.7h0.02M529.99,149.3h0.02M529.99,154.2h0.02M529.99,162.3h0.02M529.99,187.0h0.02M529.99,188.8h0.02M539.89,85.4h0.02M539.89,103.8h0.02M539.89,121.6h0.02M539.89,139.1h0.02M539.89,149.2h0.02M539.89,155.4h0.02M539.89,163.9h0.02M539.89,187.0h0.02M549.79,90.7h0.02M549.79,103.1h0.02M549.79,123.9h0.02M549.79,135.4h0.02M549.79,147.5h0.02M549.79,155.4h0.02M549.79,165.3h0.02M549.79,186.5h0.02M559.99,95.8h0.02M559.99,103.1h0.02M559.99,126.2h0.02M559.99,130.8h0.02M559.99,145.8h0.02M559.99,153.8h0.02M559.99,166.2h0.02M559.99,185.4h0.02M569.89,100.4h0.02M569.89,103.1h0.02M569.89,128.5h0.02M569.89,145.4h0.02M569.89,153.1h0.02M569.89,166.9h0.02M569.89,184.7h0.02M579.79,103.1h0.02M579.79,126.9h0.02M579.79,128.5h0.02M579.79,145.4h0.02M579.79,151.3h0.02M579.79,167.6h0.02M579.79,184.7h0.02M589.69,104.5h0.02M589.69,125.7h0.02M589.69,128.1h0.02M589.69,146.9h0.02M589.69,149.8h0.02M589.69,167.6h0.02M589.69,184.7h0.02M599.39,105.0h0.02M599.39,126.9h0.02M599.39,147.8h0.02M599.39,167.6h0.02M599.39,184.7h0.02" stroke="#000" stroke-width="3.2" stroke-linecap="round" fill="none" clip-path="url(#clipd0)"/>
<text x="47" y="207.20000000000002" text-anchor="end" class="tk">7</text>
<text x="47" y="162.60000000000002" text-anchor="end" class="tk">8</text>
<text x="47" y="118.0" text-anchor="end" class="tk">9</text>
<text x="47" y="73.39999999999999" text-anchor="end" class="tk">10</text>
<text x="47" y="28.8" text-anchor="end" class="tk">11</text>
<text transform="translate(58,247) scale(1.17,1)" text-anchor="middle" class="kl">Γ</text>
<text transform="translate(155,247) scale(1.17,1)" text-anchor="middle" class="kl">X</text>
<text transform="translate(253,247) scale(1.17,1)" text-anchor="middle" class="kl">M</text>
<text transform="translate(399.5,247) scale(1.17,1)" text-anchor="middle" class="kl">Γ</text>
<text transform="translate(499.5,247) scale(1.17,1)" text-anchor="middle" class="kl">Y</text>
<text transform="translate(599,247) scale(1.17,1)" text-anchor="middle" class="kl">M</text>
<rect x="200" y="27" width="98" height="37" fill="#fff"/>
<text x="269" y="41.7" text-anchor="end" class="lg">Wannier</text>
<text x="269" y="59.5" text-anchor="end" class="lg">DFT</text>
<circle cx="285.5" cy="36.9" r="2.9" fill="#c0c0c0"/>
<circle cx="285.5" cy="54.4" r="1.5" fill="#000"/>
<text x="1.8" y="16.8" class="pl">(a)</text>
<text transform="translate(14,111.3) rotate(-90)" text-anchor="middle" class="yl">Energy (eV)</text>
<rect x="616.5" y="30.5" width="21" height="194" fill="url(#cb)" stroke="#3a3a3a" stroke-width="1"/>
<path d="M611,30.5H616.5M637.5,30.5H643" stroke="#3a3a3a" stroke-width="1"/>
<text x="647.5" y="35.6" class="tk">100%</text>
<path d="M611,127.5H616.5M637.5,127.5H643" stroke="#3a3a3a" stroke-width="1"/>
<text x="647.5" y="132.6" class="tk">50%</text>
<path d="M611,224.5H616.5M637.5,224.5H643" stroke="#3a3a3a" stroke-width="1"/>
<text x="647.5" y="229.6" class="tk">0%</text>
<text x="614.5" y="15" class="dl">d</text><text x="624" y="17.5" class="dl sub" textLength="15" lengthAdjust="spacingAndGlyphs">xz</text>
<line x1="156.05" y1="265" x2="156.05" y2="488" stroke="#9a9a9a" stroke-width="1" stroke-dasharray="1 1.6"/>
<line x1="254.05" y1="265" x2="254.05" y2="488" stroke="#9a9a9a" stroke-width="1" stroke-dasharray="1 1.6"/>
<line x1="400.05" y1="265" x2="400.05" y2="488" stroke="#9a9a9a" stroke-width="1" stroke-dasharray="1 1.6"/>
<line x1="500.05" y1="265" x2="500.05" y2="488" stroke="#9a9a9a" stroke-width="1" stroke-dasharray="1 1.6"/>
<path d="M58,465.9h5.7M599,465.9h-5.7" stroke="#3a3a3a" stroke-width="1"/>
<path d="M58,421.3h5.7M599,421.3h-5.7" stroke="#3a3a3a" stroke-width="1"/>
<path d="M58,376.7h5.7M599,376.7h-5.7" stroke="#3a3a3a" stroke-width="1"/>
<path d="M58,332.1h5.7M599,332.1h-5.7" stroke="#3a3a3a" stroke-width="1"/>
<path d="M58,287.5h5.7M599,287.5h-5.7" stroke="#3a3a3a" stroke-width="1"/>
<path d="M156.05,488v-5.5M156.05,265v5.5" stroke="#3a3a3a" stroke-width="1"/>
<path d="M254.05,488v-5.5M254.05,265v5.5" stroke="#3a3a3a" stroke-width="1"/>
<path d="M400.05,488v-5.5M400.05,265v5.5" stroke="#3a3a3a" stroke-width="1"/>
<path d="M500.05,488v-5.5M500.05,265v5.5" stroke="#3a3a3a" stroke-width="1"/>
<path d="M58.5,488v-5.5M58.5,265v5.5" stroke="#3a3a3a" stroke-width="1"/>
<path d="M599.5,488v-5.5M599.5,265v5.5" stroke="#3a3a3a" stroke-width="1"/>
<g clip-path="url(#clip264)">
<linearGradient id="g264_0" gradientUnits="userSpaceOnUse" x1="58.55" y1="0" x2="156.05" y2="0"><stop offset="0.0000" stop-color="#c0c0c0"/><stop offset="0.1036" stop-color="#c0c0c0"/><stop offset="0.2133" stop-color="#c0c0c0"/><stop offset="0.3138" stop-color="#c0c0c0"/><stop offset="0.4154" stop-color="#c0c0c0"/><stop offset="0.5169" stop-color="#c0c0c0"/><stop offset="0.6174" stop-color="#c0c0c0"/><stop offset="0.7190" stop-color="#c0c0c0"/><stop offset="0.8205" stop-color="#c0c0c0"/><stop offset="0.9210" stop-color="#c0c0c0"/><stop offset="1.0000" stop-color="#c0c0c0"/></linearGradient>
<path d="M58.55,377.20C60.23,377.35 65.18,377.38 68.65,378.10C72.12,378.82 75.93,379.92 79.35,381.50C82.77,383.08 85.87,385.58 89.15,387.60C92.43,389.62 95.75,391.58 99.05,393.60C102.35,395.62 105.67,397.80 108.95,399.70C112.23,401.60 115.47,403.23 118.75,405.00C122.03,406.77 125.35,408.65 128.65,410.30C131.95,411.95 135.27,413.50 138.55,414.90C141.83,416.30 145.43,417.67 148.35,418.70C151.27,419.73 154.77,420.70 156.05,421.10" fill="none" stroke="url(#g264_0)" stroke-width="6.2" stroke-linejoin="round" stroke-linecap="butt"/>
<linearGradient id="g264_1" gradientUnits="userSpaceOnUse" x1="58.55" y1="0" x2="156.05" y2="0"><stop offset="0.0000" stop-color="#8b0000"/><stop offset="0.1036" stop-color="#8b0000"/><stop offset="0.2133" stop-color="#8b0000"/><stop offset="0.3138" stop-color="#8b0000"/><stop offset="0.4154" stop-color="#8b0000"/><stop offset="0.5169" stop-color="#8b0000"/><stop offset="0.6174" stop-color="#8b0000"/><stop offset="0.7190" stop-color="#8b0000"/><stop offset="0.8205" stop-color="#8b0000"/><stop offset="0.9210" stop-color="#8b0000"/><stop offset="1.0000" stop-color="#8b0000"/></linearGradient>
<path d="M58.55,375.90C60.23,376.05 65.18,376.08 68.65,376.80C72.12,377.52 75.93,378.62 79.35,380.20C82.77,381.78 85.87,384.28 89.15,386.30C92.43,388.32 95.75,390.28 99.05,392.30C102.35,394.32 105.67,396.50 108.95,398.40C112.23,400.30 115.47,401.93 118.75,403.70C122.03,405.47 125.35,407.35 128.65,409.00C131.95,410.65 135.27,412.20 138.55,413.60C141.83,415.00 145.43,416.37 148.35,417.40C151.27,418.43 154.77,419.40 156.05,419.80" fill="none" stroke="url(#g264_1)" stroke-width="6.2" stroke-linejoin="round" stroke-linecap="butt"/>
<linearGradient id="g264_2" gradientUnits="userSpaceOnUse" x1="58.55" y1="0" x2="156.05" y2="0"><stop offset="0.0000" stop-color="#8b0000"/><stop offset="0.2133" stop-color="#8b0000"/><stop offset="0.4154" stop-color="#8b0000"/><stop offset="0.6174" stop-color="#8b0000"/><stop offset="0.8205" stop-color="#8b0000"/><stop offset="1.0000" stop-color="#8b0000"/></linearGradient>
<path d="M58.55,402.20C62.02,402.45 72.60,402.82 79.35,403.70C86.10,404.58 92.48,406.10 99.05,407.50C105.62,408.90 112.17,410.58 118.75,412.10C125.33,413.62 132.33,415.32 138.55,416.60C144.77,417.88 153.13,419.27 156.05,419.80" fill="none" stroke="url(#g264_2)" stroke-width="6.2" stroke-linejoin="round" stroke-linecap="butt"/>
<linearGradient id="g264_3" gradientUnits="userSpaceOnUse" x1="70.55" y1="0" x2="150.55" y2="0"><stop offset="0.0000" stop-color="#c0c0c0"/><stop offset="0.3562" stop-color="#c0c0c0"/><stop offset="0.6250" stop-color="#c0c0c0"/><stop offset="0.8500" stop-color="#c0c0c0"/><stop offset="1.0000" stop-color="#c0c0c0"/></linearGradient>
<path d="M70.55,423.10C75.30,423.08 90.72,423.15 99.05,423.00C107.38,422.85 113.97,422.57 120.55,422.20C127.13,421.83 133.55,421.23 138.55,420.80C143.55,420.37 148.55,419.80 150.55,419.60" fill="none" stroke="url(#g264_3)" stroke-width="6.2" stroke-linejoin="round" stroke-linecap="butt"/>
<linearGradient id="g264_4" gradientUnits="userSpaceOnUse" x1="58.55" y1="0" x2="156.05" y2="0"><stop offset="0.0000" stop-color="#8b0000"/><stop offset="0.4154" stop-color="#8b0000"/><stop offset="0.6359" stop-color="#8b0000"/><stop offset="0.8205" stop-color="#8b0000"/><stop offset="1.0000" stop-color="#8b0000"/></linearGradient>
<path d="M58.55,424.40C65.30,424.38 88.72,424.43 99.05,424.30C109.38,424.17 113.97,423.98 120.55,423.60C127.13,423.22 132.63,422.60 138.55,422.00C144.47,421.40 153.13,420.33 156.05,420.00" fill="none" stroke="url(#g264_4)" stroke-width="6.2" stroke-linejoin="round" stroke-linecap="butt"/>
<linearGradient id="g264_5" gradientUnits="userSpaceOnUse" x1="58.55" y1="0" x2="156.05" y2="0"><stop offset="0.0000" stop-color="#8b0000"/><stop offset="0.2133" stop-color="#8b0000"/><stop offset="0.4154" stop-color="#8b0000"/><stop offset="0.6174" stop-color="#8b0000"/><stop offset="0.8205" stop-color="#8b0000"/><stop offset="1.0000" stop-color="#8b0000"/></linearGradient>
<path d="M58.55,433.60C62.02,433.50 72.60,433.43 79.35,433.00C86.10,432.57 92.48,431.97 99.05,431.00C105.62,430.03 112.17,428.47 118.75,427.20C125.33,425.93 132.33,424.60 138.55,423.40C144.77,422.20 153.13,420.57 156.05,420.00" fill="none" stroke="url(#g264_5)" stroke-width="6.2" stroke-linejoin="round" stroke-linecap="butt"/>
<linearGradient id="g264_6" gradientUnits="userSpaceOnUse" x1="156.05" y1="0" x2="400.05" y2="0"><stop offset="0.0000" stop-color="#f30000"/><stop offset="0.0500" stop-color="#ff0000"/><stop offset="0.0926" stop-color="#ff0000"/><stop offset="0.1352" stop-color="#ff0000"/><stop offset="0.1750" stop-color="#ff0000"/><stop offset="0.2176" stop-color="#ff0000"/><stop offset="0.2607" stop-color="#ff0000"/><stop offset="0.3000" stop-color="#ff0000"/><stop offset="0.3393" stop-color="#ff0000"/><stop offset="0.3824" stop-color="#ff0000"/><stop offset="0.4119" stop-color="#ff0000"/><stop offset="0.4615" stop-color="#ff0000"/><stop offset="0.5451" stop-color="#ff0000"/><stop offset="0.6283" stop-color="#ff0000"/><stop offset="0.7119" stop-color="#ff0000"/><stop offset="0.7955" stop-color="#ff0000"/><stop offset="0.8791" stop-color="#f30000"/><stop offset="0.9283" stop-color="#dc0000"/><stop offset="0.9623" stop-color="#b90000"/><stop offset="1.0000" stop-color="#a20000"/></linearGradient>
<path d="M156.05,419.50C158.08,419.13 164.48,418.08 168.25,417.30C172.02,416.52 175.18,415.65 178.65,414.80C182.12,413.95 185.70,413.12 189.05,412.20C192.40,411.28 195.40,410.40 198.75,409.30C202.10,408.20 205.67,406.98 209.15,405.60C212.63,404.22 216.30,402.50 219.65,401.00C223.00,399.50 226.05,397.90 229.25,396.60C232.45,395.30 235.50,394.13 238.85,393.20C242.20,392.27 246.40,391.48 249.35,391.00C252.30,390.52 253.33,390.57 256.55,390.30C259.77,390.03 263.23,390.03 268.65,389.40C274.07,388.77 282.27,387.55 289.05,386.50C295.83,385.45 302.57,384.08 309.35,383.10C316.13,382.12 322.95,381.35 329.75,380.60C336.55,379.85 343.35,379.23 350.15,378.60C356.95,377.97 365.15,377.27 370.55,376.80C375.95,376.33 379.17,376.05 382.55,375.80C385.93,375.55 387.93,375.40 390.85,375.30C393.77,375.20 398.52,375.22 400.05,375.20" fill="none" stroke="url(#g264_6)" stroke-width="6.2" stroke-linejoin="round" stroke-linecap="butt"/>
<linearGradient id="g264_7" gradientUnits="userSpaceOnUse" x1="156.05" y1="0" x2="400.05" y2="0"><stop offset="0.0000" stop-color="#f30000"/><stop offset="0.0500" stop-color="#ff0000"/><stop offset="0.0926" stop-color="#ff0000"/><stop offset="0.1352" stop-color="#ff0000"/><stop offset="0.1750" stop-color="#ff0000"/><stop offset="0.2176" stop-color="#ff0000"/><stop offset="0.2607" stop-color="#ff0000"/><stop offset="0.3000" stop-color="#ff0000"/><stop offset="0.3393" stop-color="#ff0000"/><stop offset="0.3824" stop-color="#ff0000"/><stop offset="0.3996" stop-color="#ff0000"/><stop offset="0.5451" stop-color="#ff0000"/><stop offset="0.7119" stop-color="#ff0000"/><stop offset="0.7955" stop-color="#f30000"/><stop offset="0.8791" stop-color="#d10000"/><stop offset="1.0000" stop-color="#a20000"/></linearGradient>
<path d="M156.05,419.80C158.08,420.00 164.48,420.35 168.25,421.00C172.02,421.65 175.18,422.90 178.65,423.70C182.12,424.50 185.70,425.10 189.05,425.80C192.40,426.50 195.40,427.28 198.75,427.90C202.10,428.52 205.67,429.05 209.15,429.50C212.63,429.95 216.30,430.33 219.65,430.60C223.00,430.87 226.05,430.97 229.25,431.10C232.45,431.23 235.50,431.30 238.85,431.40C242.20,431.50 246.90,431.68 249.35,431.70C251.80,431.72 246.93,431.68 253.55,431.50C260.17,431.32 276.35,430.75 289.05,430.60C301.75,430.45 319.57,430.52 329.75,430.60C339.93,430.68 343.35,430.80 350.15,431.10C356.95,431.40 362.23,432.03 370.55,432.40C378.87,432.77 395.13,433.15 400.05,433.30" fill="none" stroke="url(#g264_7)" stroke-width="6.2" stroke-linejoin="round" stroke-linecap="butt"/>
<linearGradient id="g264_8" gradientUnits="userSpaceOnUse" x1="253.55" y1="0" x2="400.05" y2="0"><stop offset="0.0000" stop-color="#ff0000"/><stop offset="0.1727" stop-color="#ff0000"/><stop offset="0.3119" stop-color="#ff0000"/><stop offset="0.4505" stop-color="#ff0000"/><stop offset="0.5898" stop-color="#ff0000"/><stop offset="0.7290" stop-color="#e80000"/><stop offset="0.8676" stop-color="#b90000"/><stop offset="1.0000" stop-color="#a20000"/></linearGradient>
<path d="M253.55,390.30C257.77,390.62 271.23,391.33 278.85,392.20C286.47,393.07 292.47,394.57 299.25,395.50C306.03,396.43 312.77,397.15 319.55,397.80C326.33,398.45 333.15,398.90 339.95,399.40C346.75,399.90 353.57,400.50 360.35,400.80C367.13,401.10 374.03,401.05 380.65,401.20C387.27,401.35 396.82,401.62 400.05,401.70" fill="none" stroke="url(#g264_8)" stroke-width="6.2" stroke-linejoin="round" stroke-linecap="butt"/>
<linearGradient id="g264_9" gradientUnits="userSpaceOnUse" x1="268.55" y1="0" x2="400.05" y2="0"><stop offset="0.0000" stop-color="#ff0000"/><stop offset="0.1217" stop-color="#ff0000"/><stop offset="0.2335" stop-color="#ff0000"/><stop offset="0.3103" stop-color="#ff0000"/><stop offset="0.3878" stop-color="#ff0000"/><stop offset="0.4654" stop-color="#ff0000"/><stop offset="0.5430" stop-color="#f30000"/><stop offset="0.6205" stop-color="#d10000"/><stop offset="0.7757" stop-color="#ae0000"/><stop offset="1.0000" stop-color="#970000"/></linearGradient>
<path d="M268.55,390.50C271.22,390.78 279.43,390.42 284.55,392.20C289.67,393.98 295.12,398.75 299.25,401.20C303.38,403.65 305.97,404.82 309.35,406.90C312.73,408.98 316.15,411.63 319.55,413.70C322.95,415.77 326.35,417.80 329.75,419.30C333.15,420.80 336.55,422.02 339.95,422.70C343.35,423.38 345.05,423.38 350.15,423.40C355.25,423.42 362.23,422.97 370.55,422.80C378.87,422.63 395.13,422.47 400.05,422.40" fill="none" stroke="url(#g264_9)" stroke-width="6.2" stroke-linejoin="round" stroke-linecap="butt"/>
<linearGradient id="g264_10" gradientUnits="userSpaceOnUse" x1="250.55" y1="0" x2="400.05" y2="0"><stop offset="0.0000" stop-color="#ff0000"/><stop offset="0.2575" stop-color="#ff0000"/><stop offset="0.3933" stop-color="#ff0000"/><stop offset="0.5298" stop-color="#ff0000"/><stop offset="0.6662" stop-color="#ff0000"/><stop offset="0.7358" stop-color="#ff0000"/><stop offset="0.8027" stop-color="#ff0000"/><stop offset="0.8702" stop-color="#ff0000"/><stop offset="0.9385" stop-color="#f30000"/><stop offset="1.0000" stop-color="#e80000"/></linearGradient>
<path d="M250.55,430.60C256.97,430.03 279.25,428.33 289.05,427.20C298.85,426.07 302.57,425.12 309.35,423.80C316.13,422.48 322.95,421.55 329.75,419.30C336.55,417.05 345.02,413.18 350.15,410.30C355.28,407.42 357.15,404.65 360.55,402.00C363.95,399.35 367.20,396.98 370.55,394.40C373.90,391.82 377.27,389.33 380.65,386.50C384.03,383.67 387.62,379.32 390.85,377.40C394.08,375.48 398.52,375.40 400.05,375.00" fill="none" stroke="url(#g264_10)" stroke-width="6.2" stroke-linejoin="round" stroke-linecap="butt"/>
<linearGradient id="g264_11" gradientUnits="userSpaceOnUse" x1="329.75" y1="0" x2="400.05" y2="0"><stop offset="0.0000" stop-color="#ff0000"/><stop offset="0.2902" stop-color="#ff0000"/><stop offset="0.5804" stop-color="#f30000"/><stop offset="0.8649" stop-color="#c50000"/><stop offset="1.0000" stop-color="#ae0000"/></linearGradient>
<path d="M329.75,419.30C333.15,418.42 343.35,416.22 350.15,414.00C356.95,411.78 363.82,407.83 370.55,406.00C377.28,404.17 385.63,403.67 390.55,403.00C395.47,402.33 398.47,402.17 400.05,402.00" fill="none" stroke="url(#g264_11)" stroke-width="6.2" stroke-linejoin="round" stroke-linecap="butt"/>
<linearGradient id="g264_12" gradientUnits="userSpaceOnUse" x1="400.05" y1="0" x2="500.05" y2="0"><stop offset="0.0000" stop-color="#c0c0c0"/><stop offset="0.0550" stop-color="#c0c0c0"/><stop offset="0.1050" stop-color="#c0c0c0"/><stop offset="0.1750" stop-color="#c0c0c0"/><stop offset="0.2570" stop-color="#c0c0c0"/><stop offset="0.3250" stop-color="#c0c0c0"/><stop offset="0.4080" stop-color="#c0c0c0"/><stop offset="0.4850" stop-color="#c0c0c0"/><stop offset="0.5590" stop-color="#c0c0c0"/><stop offset="0.6350" stop-color="#c0c0c0"/><stop offset="0.7110" stop-color="#c0c0c0"/><stop offset="0.7850" stop-color="#c0c0c0"/><stop offset="0.8620" stop-color="#c0c0c0"/><stop offset="0.9250" stop-color="#c0c0c0"/><stop offset="1.0000" stop-color="#c0c0c0"/></linearGradient>
<path d="M400.05,373.70C400.97,373.78 403.80,373.92 405.55,374.20C407.30,374.48 408.55,374.80 410.55,375.40C412.55,376.00 415.02,376.82 417.55,377.80C420.08,378.78 423.25,380.13 425.75,381.30C428.25,382.47 430.03,383.45 432.55,384.80C435.07,386.15 438.18,387.80 440.85,389.40C443.52,391.00 446.03,392.73 448.55,394.40C451.07,396.07 453.45,397.78 455.95,399.40C458.45,401.02 461.02,402.58 463.55,404.10C466.08,405.62 468.65,407.22 471.15,408.50C473.65,409.78 476.03,410.78 478.55,411.80C481.07,412.82 483.92,413.80 486.25,414.60C488.58,415.40 490.25,415.97 492.55,416.60C494.85,417.23 498.80,418.10 500.05,418.40" fill="none" stroke="url(#g264_12)" stroke-width="6.2" stroke-linejoin="round" stroke-linecap="butt"/>
<linearGradient id="g264_13" gradientUnits="userSpaceOnUse" x1="400.05" y1="0" x2="500.05" y2="0"><stop offset="0.0000" stop-color="#8b0000"/><stop offset="0.0550" stop-color="#8b0000"/><stop offset="0.1050" stop-color="#8b0000"/><stop offset="0.1750" stop-color="#8b0000"/><stop offset="0.2570" stop-color="#8b0000"/><stop offset="0.3250" stop-color="#8b0000"/><stop offset="0.4080" stop-color="#8b0000"/><stop offset="0.4850" stop-color="#8b0000"/><stop offset="0.5590" stop-color="#8b0000"/><stop offset="0.6350" stop-color="#8b0000"/><stop offset="0.7110" stop-color="#8b0000"/><stop offset="0.7850" stop-color="#8b0000"/><stop offset="0.8620" stop-color="#8b0000"/><stop offset="0.9250" stop-color="#8b0000"/><stop offset="1.0000" stop-color="#8b0000"/></linearGradient>
<path d="M400.05,375.10C400.97,375.18 403.80,375.32 405.55,375.60C407.30,375.88 408.55,376.20 410.55,376.80C412.55,377.40 415.02,378.22 417.55,379.20C420.08,380.18 423.25,381.53 425.75,382.70C428.25,383.87 430.03,384.85 432.55,386.20C435.07,387.55 438.18,389.20 440.85,390.80C443.52,392.40 446.03,394.13 448.55,395.80C451.07,397.47 453.45,399.18 455.95,400.80C458.45,402.42 461.02,403.98 463.55,405.50C466.08,407.02 468.65,408.62 471.15,409.90C473.65,411.18 476.03,412.18 478.55,413.20C481.07,414.22 483.92,415.20 486.25,416.00C488.58,416.80 490.25,417.37 492.55,418.00C494.85,418.63 498.80,419.50 500.05,419.80" fill="none" stroke="url(#g264_13)" stroke-width="6.2" stroke-linejoin="round" stroke-linecap="butt"/>
<linearGradient id="g264_14" gradientUnits="userSpaceOnUse" x1="400.05" y1="0" x2="500.05" y2="0"><stop offset="0.0000" stop-color="#8b0000"/><stop offset="0.2570" stop-color="#8b0000"/><stop offset="0.5590" stop-color="#8b0000"/><stop offset="0.8010" stop-color="#8b0000"/><stop offset="1.0000" stop-color="#8b0000"/></linearGradient>
<path d="M400.05,402.30C404.33,402.70 416.43,403.43 425.75,404.70C435.07,405.97 446.88,408.03 455.95,409.90C465.02,411.77 472.80,414.25 480.15,415.90C487.50,417.55 496.73,419.15 500.05,419.80" fill="none" stroke="url(#g264_14)" stroke-width="6.2" stroke-linejoin="round" stroke-linecap="butt"/>
<linearGradient id="g264_15" gradientUnits="userSpaceOnUse" x1="400.05" y1="0" x2="500.05" y2="0"><stop offset="0.0000" stop-color="#8b0000"/><stop offset="0.5590" stop-color="#8b0000"/><stop offset="1.0000" stop-color="#8b0000"/></linearGradient>
<path d="M400.05,422.20C409.37,422.17 439.28,422.37 455.95,422.00C472.62,421.63 492.70,420.33 500.05,420.00" fill="none" stroke="url(#g264_15)" stroke-width="6.2" stroke-linejoin="round" stroke-linecap="butt"/>
<linearGradient id="g264_16" gradientUnits="userSpaceOnUse" x1="400.05" y1="0" x2="500.05" y2="0"><stop offset="0.0000" stop-color="#8b0000"/><stop offset="0.4080" stop-color="#8b0000"/><stop offset="0.7110" stop-color="#8b0000"/><stop offset="1.0000" stop-color="#8b0000"/></linearGradient>
<path d="M400.05,433.10C406.85,432.75 429.00,432.35 440.85,431.00C452.70,429.65 461.28,426.83 471.15,425.00C481.02,423.17 495.23,420.83 500.05,420.00" fill="none" stroke="url(#g264_16)" stroke-width="6.2" stroke-linejoin="round" stroke-linecap="butt"/>
<linearGradient id="g264_17" gradientUnits="userSpaceOnUse" x1="500.05" y1="0" x2="599.55" y2="0"><stop offset="0.0000" stop-color="#ff0000"/><stop offset="0.1648" stop-color="#ff0000"/><stop offset="0.3166" stop-color="#ff0000"/><stop offset="0.4683" stop-color="#ff0000"/><stop offset="0.6201" stop-color="#ff0000"/><stop offset="0.7719" stop-color="#ff0000"/><stop offset="0.9236" stop-color="#ff0000"/><stop offset="1.0000" stop-color="#ff0000"/></linearGradient>
<path d="M500.05,419.80C502.78,418.90 511.20,416.30 516.45,414.40C521.70,412.50 526.52,410.42 531.55,408.40C536.58,406.38 541.62,404.42 546.65,402.30C551.68,400.18 556.72,397.57 561.75,395.70C566.78,393.83 571.82,392.02 576.85,391.10C581.88,390.18 588.17,390.35 591.95,390.20C595.73,390.05 598.28,390.20 599.55,390.20" fill="none" stroke="url(#g264_17)" stroke-width="6.2" stroke-linejoin="round" stroke-linecap="butt"/>
<linearGradient id="g264_18" gradientUnits="userSpaceOnUse" x1="500.05" y1="0" x2="599.55" y2="0"><stop offset="0.0000" stop-color="#ff0000"/><stop offset="0.1648" stop-color="#ff0000"/><stop offset="0.3166" stop-color="#ff0000"/><stop offset="0.4683" stop-color="#ff0000"/><stop offset="0.6201" stop-color="#ff0000"/><stop offset="0.7719" stop-color="#ff0000"/><stop offset="1.0000" stop-color="#ff0000"/></linearGradient>
<path d="M500.05,419.80C502.78,420.42 511.20,422.38 516.45,423.50C521.70,424.62 526.52,425.60 531.55,426.50C536.58,427.40 541.62,428.25 546.65,428.90C551.68,429.55 556.72,430.00 561.75,430.40C566.78,430.80 570.55,431.10 576.85,431.30C583.15,431.50 595.77,431.55 599.55,431.60" fill="none" stroke="url(#g264_18)" stroke-width="6.2" stroke-linejoin="round" stroke-linecap="butt"/>
</g>
<line x1="58" y1="378.8" x2="599" y2="378.8" stroke="#ff0000" stroke-opacity="0.45" stroke-width="1.8"/>
<path d="M58.5,265V489M58,488.5H600" stroke="#3c3c3c" stroke-width="1" fill="none"/>
<path d="M58,265.5H600" stroke="#3c3c3c" stroke-width="1" fill="none"/>
<path d="M600,265V489" stroke="#9a9a9a" stroke-width="2" fill="none"/>
<path d="M58.94,277.4h0.02M58.94,308.9h0.02M58.94,315.8h0.02M58.94,326.7h0.02M58.94,339.5h0.02M58.94,375.1h0.02M58.94,399.7h0.02M58.94,402.7h0.02M58.94,414.9h0.02M58.94,417.9h0.02M58.94,421.8h0.02M58.94,433.6h0.02M58.94,454.7h0.02M58.94,457.3h0.02M58.94,474.4h0.02M58.94,479.6h0.02M58.94,482.3h0.02M58.94,483.9h0.02M68.74,276.8h0.02M68.74,308.1h0.02M68.74,315.8h0.02M68.74,317.2h0.02M68.74,325.7h0.02M68.74,340.0h0.02M68.74,369.5h0.02M68.74,377.0h0.02M68.74,379.8h0.02M68.74,398.1h0.02M68.74,402.7h0.02M68.74,404.0h0.02M68.74,414.9h0.02M68.74,417.9h0.02M68.74,421.6h0.02M68.74,423.1h0.02M68.74,433.6h0.02M68.74,454.7h0.02M68.74,457.3h0.02M68.74,475.0h0.02M68.74,477.0h0.02M68.74,480.3h0.02M68.74,482.9h0.02M68.74,487.2h0.02M78.64,273.1h0.02M78.64,275.4h0.02M78.64,305.0h0.02M78.64,316.6h0.02M78.64,322.7h0.02M78.64,341.3h0.02M78.64,364.8h0.02M78.64,380.8h0.02M78.64,384.7h0.02M78.64,397.1h0.02M78.64,404.0h0.02M78.64,405.6h0.02M78.64,415.3h0.02M78.64,417.6h0.02M78.64,421.7h0.02M78.64,423.6h0.02M78.64,433.3h0.02M78.64,454.7h0.02M78.64,457.3h0.02M78.64,473.0h0.02M78.64,475.0h0.02M78.64,480.0h0.02M78.64,484.9h0.02M88.64,268.5h0.02M88.64,273.5h0.02M88.64,300.3h0.02M88.64,318.2h0.02M88.64,330.0h0.02M88.64,342.8h0.02M88.64,360.5h0.02M88.64,385.7h0.02M88.64,389.8h0.02M88.64,395.8h0.02M88.64,406.0h0.02M88.64,408.0h0.02M88.64,412.6h0.02M88.64,416.2h0.02M88.64,418.2h0.02M88.64,422.2h0.02M88.64,424.5h0.02M88.64,432.4h0.02M88.64,452.8h0.02M88.64,457.3h0.02M88.64,470.1h0.02M88.64,477.0h0.02M88.64,480.3h0.02M98.54,269.9h0.02M98.54,293.8h0.02M98.54,312.1h0.02M98.54,319.6h0.02M98.54,337.9h0.02M98.54,345.5h0.02M98.54,356.1h0.02M98.54,391.2h0.02M98.54,394.6h0.02M98.54,407.5h0.02M98.54,410.0h0.02M98.54,416.8h0.02M98.54,418.5h0.02M98.54,422.8h0.02M98.54,425.5h0.02M98.54,431.4h0.02M98.54,451.4h0.02M98.54,454.0h0.02M98.54,457.3h0.02M98.54,467.1h0.02M98.54,478.0h0.02M98.54,480.3h0.02M108.54,265.0h0.02M108.54,285.3h0.02M108.54,304.2h0.02M108.54,321.4h0.02M108.54,344.9h0.02M108.54,347.9h0.02M108.54,351.2h0.02M108.54,391.8h0.02M108.54,397.7h0.02M108.54,400.1h0.02M108.54,402.1h0.02M108.54,409.3h0.02M108.54,412.3h0.02M108.54,417.9h0.02M108.54,422.8h0.02M108.54,425.7h0.02M108.54,430.4h0.02M108.54,450.4h0.02M108.54,453.3h0.02M108.54,456.7h0.02M108.54,464.6h0.02M108.54,479.0h0.02M108.54,481.0h0.02M118.44,275.8h0.02M118.44,294.9h0.02M118.44,323.1h0.02M118.44,347.9h0.02M118.44,352.4h0.02M118.44,389.3h0.02M118.44,396.9h0.02M118.44,402.0h0.02M118.44,404.5h0.02M118.44,411.2h0.02M118.44,414.0h0.02M118.44,418.3h0.02M118.44,423.0h0.02M118.44,425.5h0.02M118.44,429.0h0.02M118.44,449.4h0.02M118.44,452.8h0.02M118.44,455.9h0.02M118.44,462.2h0.02M118.44,481.0h0.02M128.24,284.5h0.02M128.24,325.7h0.02M128.24,343.5h0.02M128.24,356.3h0.02M128.24,359.7h0.02M128.24,386.3h0.02M128.24,390.8h0.02M128.24,407.6h0.02M128.24,413.6h0.02M128.24,415.6h0.02M128.24,418.8h0.02M128.24,423.2h0.02M128.24,425.6h0.02M128.24,427.8h0.02M128.24,449.4h0.02M128.24,452.8h0.02M128.24,455.9h0.02M128.24,460.6h0.02M128.24,482.3h0.02M138.34,273.1h0.02M138.34,328.0h0.02M138.34,340.5h0.02M138.34,361.1h0.02M138.34,366.2h0.02M138.34,383.3h0.02M138.34,384.9h0.02M138.34,412.2h0.02M138.34,415.6h0.02M138.34,417.8h0.02M138.34,420.0h0.02M138.34,422.5h0.02M138.34,425.3h0.02M138.34,449.4h0.02M138.34,452.0h0.02M138.34,455.9h0.02M138.34,457.3h0.02M138.34,482.9h0.02M148.14,331.0h0.02M148.14,337.3h0.02M148.14,366.6h0.02M148.14,371.5h0.02M148.14,378.4h0.02M148.14,380.4h0.02M148.14,414.9h0.02M148.14,417.9h0.02M148.14,420.8h0.02M148.14,423.8h0.02M148.14,450.0h0.02M148.14,452.8h0.02M148.14,455.9h0.02M148.14,483.5h0.02M158.24,334.0h0.02M158.24,372.5h0.02M158.24,376.1h0.02M158.24,417.8h0.02M158.24,419.2h0.02M158.24,422.4h0.02M158.24,450.0h0.02M158.24,456.7h0.02M158.24,483.9h0.02M168.24,335.1h0.02M168.24,371.1h0.02M168.24,377.0h0.02M168.24,414.9h0.02M168.24,419.2h0.02M168.24,423.2h0.02M168.24,450.0h0.02M168.24,456.3h0.02M168.24,484.9h0.02M178.14,338.3h0.02M178.14,369.9h0.02M178.14,380.0h0.02M178.14,411.2h0.02M178.14,417.3h0.02M178.14,419.2h0.02M178.14,424.4h0.02M178.14,450.0h0.02M178.14,454.7h0.02M188.14,342.7h0.02M188.14,368.6h0.02M188.14,382.4h0.02M188.14,407.0h0.02M188.14,414.9h0.02M188.14,419.5h0.02M188.14,426.3h0.02M188.14,449.7h0.02M188.14,452.8h0.02M198.34,348.3h0.02M198.34,367.8h0.02M198.34,385.3h0.02M198.34,403.0h0.02M198.34,413.1h0.02M198.34,417.8h0.02M198.34,419.2h0.02M198.34,427.7h0.02M198.34,429.1h0.02M198.34,450.0h0.02M198.34,451.4h0.02M208.44,354.2h0.02M208.44,367.2h0.02M208.44,387.9h0.02M208.44,398.7h0.02M208.44,411.4h0.02M208.44,418.4h0.02M208.44,428.3h0.02M208.44,430.3h0.02M208.44,450.0h0.02M218.44,359.7h0.02M218.44,367.0h0.02M218.44,390.2h0.02M218.44,395.2h0.02M218.44,409.8h0.02M218.44,417.7h0.02M218.44,429.7h0.02M218.44,431.1h0.02M218.44,449.4h0.02M228.54,363.6h0.02M228.54,367.0h0.02M228.54,391.8h0.02M228.54,409.0h0.02M228.54,416.9h0.02M228.54,430.7h0.02M228.54,449.4h0.02M238.54,367.6h0.02M238.54,390.6h0.02M238.54,392.2h0.02M238.54,409.0h0.02M238.54,415.4h0.02M238.54,431.1h0.02M238.54,449.0h0.02M248.64,368.6h0.02M248.64,389.3h0.02M248.64,391.8h0.02M248.64,410.4h0.02M248.64,413.4h0.02M248.64,431.7h0.02M248.64,449.0h0.02M258.64,369.0h0.02M258.64,390.6h0.02M258.64,411.9h0.02M258.64,431.7h0.02M258.64,449.0h0.02M268.74,368.2h0.02M268.74,369.5h0.02M268.74,389.3h0.02M268.74,391.8h0.02M268.74,409.5h0.02M268.74,412.5h0.02M268.74,414.2h0.02M268.74,431.7h0.02M268.74,449.0h0.02M278.74,366.2h0.02M278.74,368.6h0.02M278.74,387.3h0.02M278.74,392.6h0.02M278.74,406.4h0.02M278.74,414.4h0.02M278.74,416.5h0.02M278.74,430.3h0.02M278.74,431.7h0.02M278.74,449.0h0.02M288.84,364.2h0.02M288.84,368.6h0.02M288.84,385.9h0.02M288.84,394.2h0.02M288.84,403.4h0.02M288.84,414.7h0.02M288.84,416.9h0.02M288.84,428.7h0.02M288.84,431.7h0.02M288.84,449.4h0.02M298.84,360.7h0.02M298.84,362.7h0.02M298.84,368.6h0.02M298.84,384.3h0.02M298.84,396.2h0.02M298.84,401.1h0.02M298.84,416.9h0.02M298.84,427.7h0.02M298.84,431.1h0.02M298.84,450.0h0.02M309.14,356.7h0.02M309.14,360.3h0.02M309.14,367.6h0.02M309.14,382.8h0.02M309.14,397.7h0.02M309.14,399.1h0.02M309.14,415.9h0.02M309.14,418.9h0.02M309.14,426.3h0.02M309.14,430.7h0.02M309.14,450.0h0.02M319.14,273.9h0.02M319.14,352.2h0.02M319.14,357.3h0.02M319.14,367.2h0.02M319.14,381.4h0.02M319.14,396.7h0.02M319.14,399.7h0.02M319.14,402.5h0.02M319.14,414.5h0.02M319.14,421.2h0.02M319.14,423.2h0.02M319.14,426.3h0.02M319.14,429.7h0.02M319.14,450.4h0.02M319.14,452.0h0.02M329.34,268.3h0.02M329.34,284.7h0.02M329.34,346.9h0.02M329.34,354.2h0.02M329.34,366.0h0.02M329.34,380.4h0.02M329.34,396.2h0.02M329.34,400.0h0.02M329.34,404.7h0.02M329.34,412.3h0.02M329.34,421.8h0.02M329.34,423.6h0.02M329.34,425.6h0.02M329.34,430.3h0.02M329.34,450.4h0.02M329.34,452.8h0.02M339.64,277.4h0.02M339.64,294.9h0.02M339.64,341.5h0.02M339.64,350.8h0.02M339.64,365.2h0.02M339.64,379.8h0.02M339.64,396.2h0.02M339.64,400.3h0.02M339.64,407.3h0.02M339.64,409.6h0.02M339.64,419.0h0.02M339.64,423.0h0.02M339.64,430.3h0.02M339.64,451.4h0.02M339.64,455.9h0.02M349.44,286.1h0.02M349.44,304.0h0.02M349.44,335.9h0.02M349.44,347.9h0.02M349.44,365.0h0.02M349.44,377.8h0.02M349.44,396.0h0.02M349.44,401.3h0.02M349.44,405.4h0.02M349.44,410.7h0.02M349.44,416.0h0.02M349.44,419.8h0.02M349.44,424.2h0.02M349.44,430.8h0.02M349.44,452.8h0.02M349.44,458.3h0.02M359.74,266.8h0.02M359.74,293.8h0.02M359.74,311.9h0.02M359.74,330.2h0.02M359.74,345.1h0.02M359.74,365.0h0.02M359.74,377.0h0.02M359.74,396.4h0.02M359.74,399.8h0.02M359.74,402.3h0.02M359.74,413.0h0.02M359.74,417.4h0.02M359.74,423.5h0.02M359.74,431.6h0.02M359.74,453.9h0.02M359.74,461.8h0.02M369.74,271.1h0.02M369.74,300.3h0.02M369.74,318.2h0.02M369.74,324.7h0.02M369.74,342.5h0.02M369.74,366.0h0.02M369.74,376.0h0.02M369.74,393.0h0.02M369.74,396.8h0.02M369.74,402.3h0.02M369.74,409.9h0.02M369.74,414.8h0.02M369.74,416.5h0.02M369.74,423.1h0.02M369.74,432.6h0.02M369.74,454.7h0.02M369.74,465.8h0.02M369.74,485.5h0.02M379.84,274.2h0.02M379.84,305.0h0.02M379.84,320.2h0.02M379.84,322.5h0.02M379.84,341.2h0.02M379.84,367.6h0.02M379.84,375.5h0.02M379.84,386.7h0.02M379.84,397.7h0.02M379.84,402.1h0.02M379.84,406.4h0.02M379.84,414.9h0.02M379.84,417.4h0.02M379.84,422.8h0.02M379.84,433.0h0.02M379.84,454.7h0.02M379.84,456.3h0.02M379.84,469.7h0.02M379.84,481.9h0.02M379.84,483.9h0.02M389.84,277.0h0.02M389.84,308.1h0.02M389.84,316.8h0.02M389.84,325.9h0.02M389.84,340.3h0.02M389.84,370.5h0.02M389.84,375.1h0.02M389.84,380.4h0.02M389.84,398.1h0.02M389.84,402.5h0.02M389.84,404.0h0.02M389.84,414.9h0.02M389.84,417.1h0.02M389.84,422.4h0.02M389.84,433.6h0.02M389.84,454.7h0.02M389.84,456.3h0.02M389.84,473.0h0.02M389.84,479.0h0.02M389.84,480.9h0.02M389.84,482.3h0.02M389.84,486.8h0.02M400.14,277.8h0.02M400.14,309.1h0.02M400.14,315.6h0.02M400.14,327.1h0.02M400.14,339.7h0.02M400.14,374.1h0.02M400.14,375.5h0.02M400.14,399.1h0.02M400.14,402.5h0.02M400.14,414.5h0.02M400.14,417.1h0.02M400.14,422.4h0.02M400.14,433.6h0.02M400.14,454.7h0.02M400.14,457.3h0.02M400.14,475.0h0.02M400.14,479.0h0.02M400.14,480.9h0.02M400.14,483.5h0.02M400.14,486.8h0.02M410.14,276.2h0.02M410.14,277.8h0.02M410.14,308.1h0.02M410.14,315.6h0.02M410.14,317.2h0.02M410.14,325.9h0.02M410.14,340.3h0.02M410.14,370.5h0.02M410.14,375.5h0.02M410.14,380.0h0.02M410.14,398.1h0.02M410.14,403.1h0.02M410.14,414.9h0.02M410.14,417.4h0.02M410.14,422.4h0.02M410.14,433.6h0.02M410.14,454.7h0.02M410.14,457.3h0.02M410.14,473.0h0.02M410.14,479.0h0.02M410.14,480.9h0.02M410.14,485.9h0.02M420.24,272.7h0.02M420.24,276.6h0.02M420.24,305.0h0.02M420.24,316.8h0.02M420.24,322.9h0.02M420.24,341.3h0.02M420.24,365.6h0.02M420.24,379.4h0.02M420.24,384.7h0.02M420.24,397.1h0.02M420.24,404.0h0.02M420.24,415.2h0.02M420.24,417.1h0.02M420.24,422.4h0.02M420.24,433.0h0.02M420.24,454.7h0.02M420.24,456.3h0.02M420.24,470.1h0.02M420.24,480.3h0.02M420.24,484.3h0.02M430.24,268.3h0.02M430.24,274.2h0.02M430.24,300.1h0.02M430.24,317.6h0.02M430.24,330.4h0.02M430.24,342.4h0.02M430.24,361.1h0.02M430.24,384.5h0.02M430.24,389.6h0.02M430.24,395.7h0.02M430.24,405.1h0.02M430.24,407.3h0.02M430.24,412.2h0.02M430.24,415.4h0.02M430.24,418.5h0.02M430.24,423.3h0.02M430.24,432.4h0.02M430.24,454.7h0.02M430.24,456.3h0.02M430.24,467.7h0.02M430.24,481.5h0.02M440.34,270.5h0.02M440.34,293.2h0.02M440.34,311.5h0.02M440.34,319.8h0.02M440.34,337.9h0.02M440.34,344.9h0.02M440.34,357.1h0.02M440.34,390.1h0.02M440.34,394.2h0.02M440.34,407.4h0.02M440.34,409.4h0.02M440.34,416.6h0.02M440.34,418.6h0.02M440.34,423.7h0.02M440.34,431.3h0.02M440.34,453.9h0.02M440.34,455.9h0.02M440.34,465.2h0.02M440.34,482.3h0.02M450.14,265.2h0.02M450.14,284.7h0.02M450.14,303.4h0.02M450.14,321.9h0.02M450.14,345.9h0.02M450.14,347.8h0.02M450.14,352.8h0.02M450.14,391.6h0.02M450.14,396.2h0.02M450.14,399.8h0.02M450.14,402.3h0.02M450.14,408.9h0.02M450.14,411.5h0.02M450.14,417.6h0.02M450.14,419.1h0.02M450.14,424.7h0.02M450.14,430.3h0.02M450.14,451.9h0.02M450.14,455.5h0.02M450.14,460.6h0.02M450.14,462.5h0.02M450.14,482.7h0.02M450.14,485.1h0.02M460.34,274.6h0.02M460.34,293.8h0.02M460.34,324.4h0.02M460.34,349.4h0.02M460.34,351.7h0.02M460.34,354.0h0.02M460.34,389.6h0.02M460.34,396.6h0.02M460.34,401.7h0.02M460.34,404.5h0.02M460.34,411.2h0.02M460.34,413.6h0.02M460.34,418.7h0.02M460.34,424.3h0.02M460.34,425.8h0.02M460.34,429.2h0.02M460.34,451.0h0.02M460.34,453.3h0.02M460.34,455.1h0.02M460.34,460.9h0.02M460.34,482.4h0.02M460.34,486.3h0.02M470.54,282.9h0.02M470.54,326.5h0.02M470.54,345.5h0.02M470.54,356.3h0.02M470.54,360.5h0.02M470.54,386.9h0.02M470.54,390.6h0.02M470.54,407.3h0.02M470.54,408.8h0.02M470.54,412.4h0.02M470.54,414.8h0.02M470.54,418.5h0.02M470.54,423.6h0.02M470.54,425.8h0.02M470.54,427.9h0.02M470.54,451.0h0.02M470.54,454.0h0.02M470.54,458.6h0.02M470.54,483.3h0.02M470.54,487.4h0.02M480.64,270.9h0.02M480.64,329.3h0.02M480.64,341.8h0.02M480.64,360.9h0.02M480.64,366.2h0.02M480.64,384.3h0.02M480.64,411.8h0.02M480.64,413.6h0.02M480.64,415.4h0.02M480.64,417.9h0.02M480.64,419.9h0.02M480.64,424.0h0.02M480.64,425.8h0.02M480.64,451.0h0.02M480.64,454.7h0.02M480.64,457.9h0.02M480.64,484.0h0.02M490.64,332.3h0.02M490.64,338.3h0.02M490.64,366.0h0.02M490.64,372.0h0.02M490.64,377.8h0.02M490.64,381.0h0.02M490.64,416.7h0.02M490.64,420.5h0.02M490.64,423.3h0.02M490.64,451.0h0.02M490.64,456.3h0.02M490.64,485.1h0.02M500.54,335.3h0.02M500.54,372.0h0.02M500.54,375.9h0.02M500.54,419.0h0.02M500.54,421.7h0.02M500.54,451.0h0.02M500.54,455.6h0.02M500.54,487.0h0.02M510.44,336.2h0.02M510.44,370.8h0.02M510.44,377.1h0.02M510.44,415.3h0.02M510.44,418.7h0.02M510.44,422.8h0.02M510.44,451.0h0.02M510.44,455.1h0.02M510.44,487.9h0.02M520.34,339.5h0.02M520.34,369.0h0.02M520.34,380.5h0.02M520.34,411.8h0.02M520.34,417.3h0.02M520.34,420.9h0.02M520.34,425.2h0.02M520.34,451.0h0.02M520.34,454.0h0.02M530.54,343.6h0.02M530.54,368.5h0.02M530.54,382.4h0.02M530.54,407.7h0.02M530.54,413.3h0.02M530.54,418.2h0.02M530.54,426.3h0.02M530.54,451.0h0.02M530.54,452.8h0.02M540.44,349.4h0.02M540.44,367.8h0.02M540.44,385.6h0.02M540.44,403.1h0.02M540.44,413.2h0.02M540.44,419.4h0.02M540.44,427.9h0.02M540.44,451.0h0.02M550.34,354.7h0.02M550.34,367.1h0.02M550.34,387.9h0.02M550.34,399.4h0.02M550.34,411.5h0.02M550.34,419.4h0.02M550.34,429.3h0.02M550.34,450.5h0.02M560.54,359.8h0.02M560.54,367.1h0.02M560.54,390.2h0.02M560.54,394.8h0.02M560.54,409.8h0.02M560.54,417.8h0.02M560.54,430.2h0.02M560.54,449.4h0.02M570.44,364.4h0.02M570.44,367.1h0.02M570.44,392.5h0.02M570.44,409.4h0.02M570.44,417.1h0.02M570.44,430.9h0.02M570.44,448.7h0.02M580.34,367.1h0.02M580.34,390.9h0.02M580.34,392.5h0.02M580.34,409.4h0.02M580.34,415.3h0.02M580.34,431.6h0.02M580.34,448.7h0.02M590.24,368.5h0.02M590.24,389.7h0.02M590.24,392.1h0.02M590.24,410.9h0.02M590.24,413.8h0.02M590.24,431.6h0.02M590.24,448.7h0.02M599.94,369.0h0.02M599.94,390.9h0.02M599.94,411.8h0.02M599.94,431.6h0.02M599.94,448.7h0.02" stroke="#000" stroke-width="3.2" stroke-linecap="round" fill="none" clip-path="url(#clipd264)"/>
<text x="47" y="471.2" text-anchor="end" class="tk">7</text>
<text x="47" y="426.6" text-anchor="end" class="tk">8</text>
<text x="47" y="382.0" text-anchor="end" class="tk">9</text>
<text x="47" y="337.40000000000003" text-anchor="end" class="tk">10</text>
<text x="47" y="292.8" text-anchor="end" class="tk">11</text>
<text transform="translate(58,511) scale(1.17,1)" text-anchor="middle" class="kl">Γ</text>
<text transform="translate(155,511) scale(1.17,1)" text-anchor="middle" class="kl">X</text>
<text transform="translate(253,511) scale(1.17,1)" text-anchor="middle" class="kl">M</text>
<text transform="translate(399.5,511) scale(1.17,1)" text-anchor="middle" class="kl">Γ</text>
<text transform="translate(499.5,511) scale(1.17,1)" text-anchor="middle" class="kl">Y</text>
<text transform="translate(599,511) scale(1.17,1)" text-anchor="middle" class="kl">M</text>
<rect x="200" y="293" width="98" height="35" fill="#fff"/>
<text x="270.2" y="305.7" text-anchor="end" class="lg">Wannier</text>
<text x="270.2" y="323.5" text-anchor="end" class="lg">DFT</text>
<circle cx="286.22" cy="300.9" r="2.9" fill="#ff0000"/>
<circle cx="286.22" cy="318.4" r="1.5" fill="#000"/>
<text x="1.8" y="280.8" class="pl">(b)</text>
<text transform="translate(14,375.3) rotate(-90)" text-anchor="middle" class="yl">Energy (eV)</text>
<rect x="616.5" y="294.5" width="21" height="194" fill="url(#cb)" stroke="#3a3a3a" stroke-width="1"/>
<path d="M611,294.5H616.5M637.5,294.5H643" stroke="#3a3a3a" stroke-width="1"/>
<text x="647.5" y="299.6" class="tk">100%</text>
<path d="M611,391.5H616.5M637.5,391.5H643" stroke="#3a3a3a" stroke-width="1"/>
<text x="647.5" y="396.6" class="tk">50%</text>
<path d="M611,488.5H616.5M637.5,488.5H643" stroke="#3a3a3a" stroke-width="1"/>
<text x="647.5" y="493.6" class="tk">0%</text>
<text x="614.5" y="279" class="dl">d</text><text x="624" y="281.5" class="dl sub" textLength="15" lengthAdjust="spacingAndGlyphs">xz</text>
</g>
</svg>
</body></html>
